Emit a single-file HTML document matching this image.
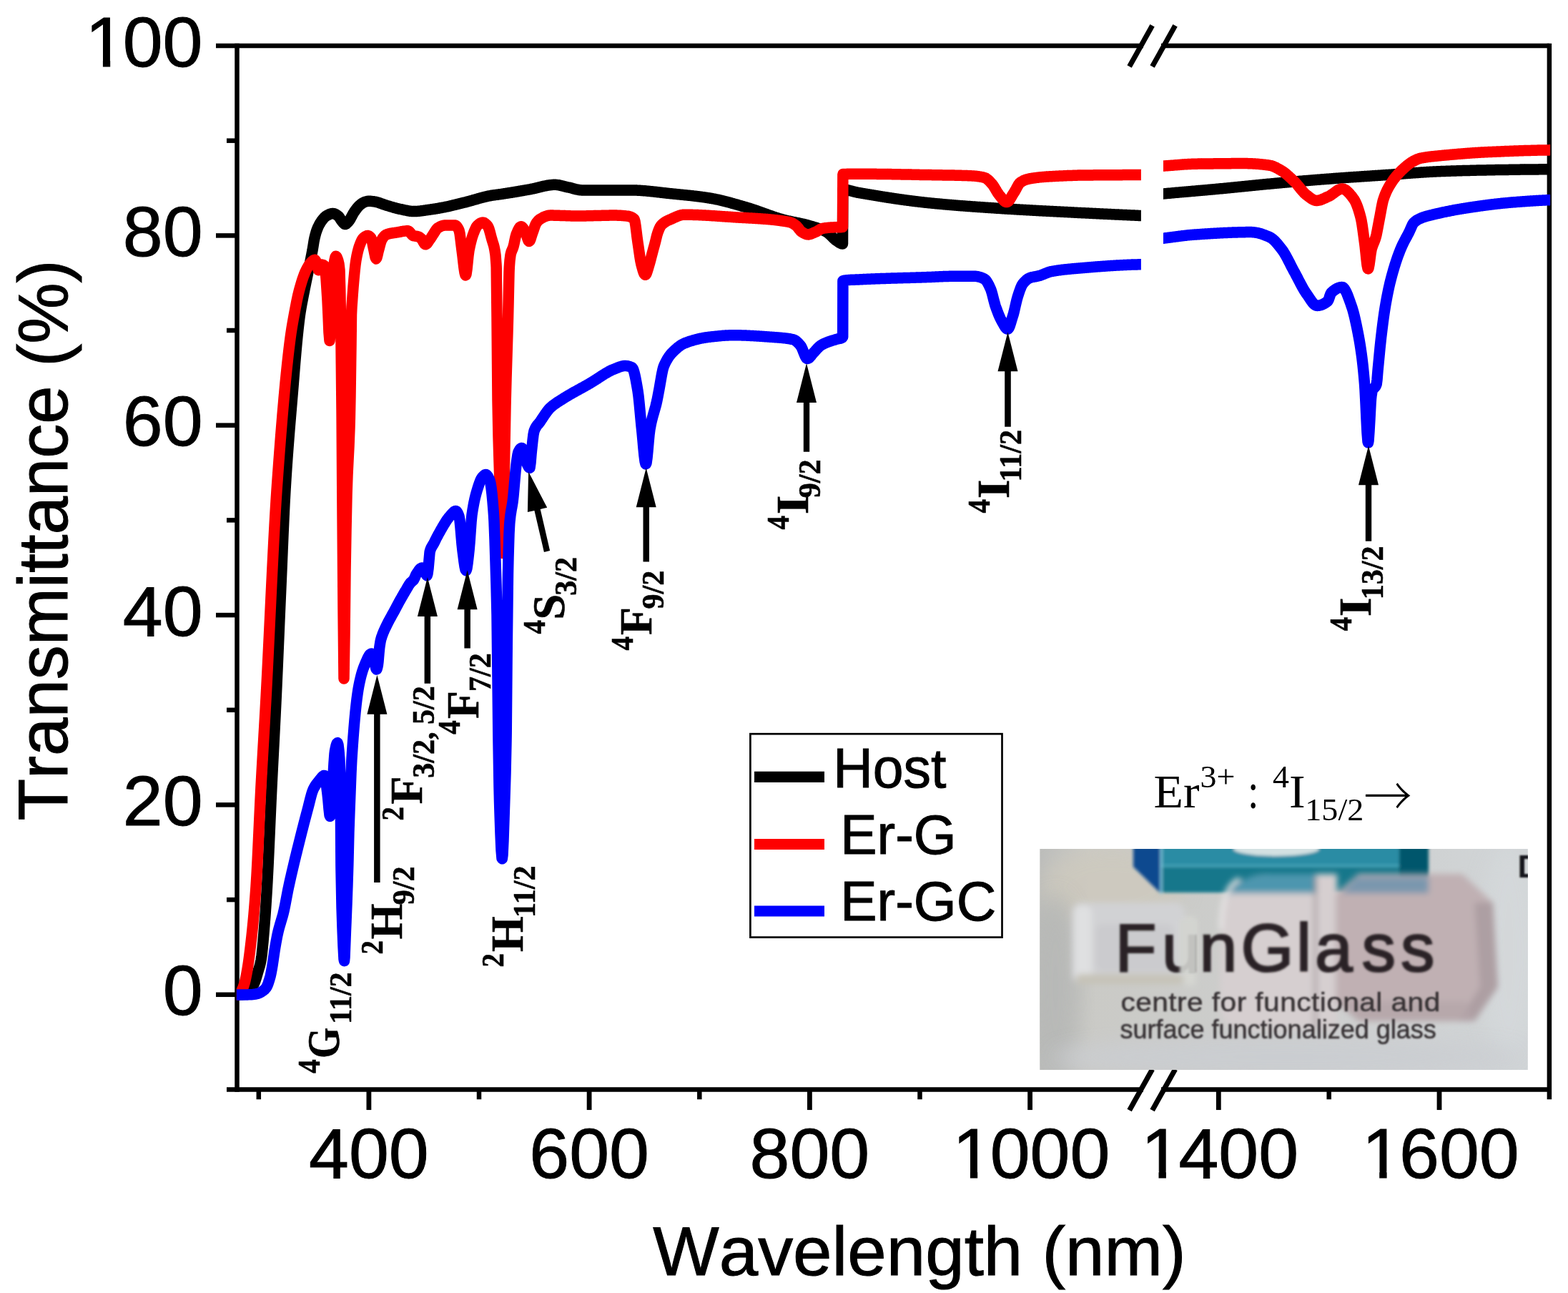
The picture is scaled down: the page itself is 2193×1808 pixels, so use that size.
<!DOCTYPE html>
<html lang="en"><head><meta charset="utf-8"><title>Transmittance spectra</title>
<style>html,body{margin:0;padding:0;background:#fff}body{width:2193px;height:1808px;overflow:hidden}svg{display:block}</style>
</head><body>
<svg xmlns="http://www.w3.org/2000/svg" width="2193" height="1808" viewBox="0 0 2193 1808">
<rect width="2193" height="1808" fill="#fff"/>
<defs>
<clipPath id="c1"><rect x="330.8" y="60" width="1265.1" height="1465"/></clipPath>
<clipPath id="c2"><rect x="1627" y="60" width="541.2" height="1465"/></clipPath>
<filter id="b2" x="-20%" y="-20%" width="140%" height="140%"><feGaussianBlur stdDeviation="2"/></filter>
<filter id="b4" x="-20%" y="-20%" width="140%" height="140%"><feGaussianBlur stdDeviation="4"/></filter>
<filter id="b8" x="-30%" y="-30%" width="160%" height="160%"><feGaussianBlur stdDeviation="8"/></filter>
<filter id="b14" x="-30%" y="-30%" width="160%" height="160%"><feGaussianBlur stdDeviation="14"/></filter>
<filter id="bt" x="-5%" y="-20%" width="110%" height="140%"><feGaussianBlur stdDeviation="1.6"/></filter>
<filter id="bt2" x="-5%" y="-20%" width="110%" height="140%"><feGaussianBlur stdDeviation="1.3"/></filter>
<clipPath id="pc"><rect x="1454.2" y="1187" width="682.7" height="309"/></clipPath>
<linearGradient id="pbg" x1="0" y1="0" x2="1" y2="0"><stop offset="0" stop-color="#bcbdbb"/><stop offset="0.1" stop-color="#cacac6"/><stop offset="0.5" stop-color="#cdcecd"/><stop offset="1" stop-color="#d1d5d7"/></linearGradient>
</defs>
<g stroke="#000" stroke-width="6.50" fill="none" stroke-linecap="butt">
<path d="M331.5 60.75 V1526.75"/>
<path d="M2166.9 60.75 V1537.25"/>
<path d="M302.0 64.0 H1599.0"/>
<path d="M1624.0 64.0 H2166.9"/>
<path d="M317.0 1523.5 H1599.0"/>
<path d="M1624.0 1523.5 H2166.9"/>
<path d="M302.0 1390.8 H331.5"/>
<path d="M302.0 1125.4 H331.5"/>
<path d="M302.0 860.1 H331.5"/>
<path d="M302.0 594.7 H331.5"/>
<path d="M302.0 329.4 H331.5"/>
<path d="M317.0 1258.1 H331.5"/>
<path d="M317.0 992.8 H331.5"/>
<path d="M317.0 727.4 H331.5"/>
<path d="M317.0 462.0 H331.5"/>
<path d="M317.0 196.7 H331.5"/>
<path d="M515.9 1523.5 V1552.05" stroke-width="6.8"/>
<path d="M824.1 1523.5 V1552.05" stroke-width="6.8"/>
<path d="M1132.4 1523.5 V1552.05" stroke-width="6.8"/>
<path d="M1440.6 1523.5 V1552.05" stroke-width="6.8"/>
<path d="M1704.3 1523.5 V1552.05" stroke-width="6.8"/>
<path d="M2013.0 1523.5 V1552.05" stroke-width="6.8"/>
<path d="M361.8 1523.5 V1537.25"/>
<path d="M670.0 1523.5 V1537.25"/>
<path d="M978.3 1523.5 V1537.25"/>
<path d="M1286.5 1523.5 V1537.25"/>
<path d="M1858.7 1523.5 V1537.25"/>
</g>
<g stroke="#000" stroke-width="7.2" fill="none" stroke-linecap="butt">
<path d="M1579.6 93.0 L1611.6 35.8"/>
<path d="M1611.6 93.0 L1643.6 35.8"/>
<path d="M1579.6 1552.5 L1611.6 1495.3"/>
<path d="M1611.6 1552.5 L1643.6 1495.3"/>
</g>
<g clip-path="url(#c1)"><path d="M325.0 1391.0L326.0 1391.0L327.0 1391.0L328.0 1391.0L329.0 1391.0L330.0 1391.0L331.0 1391.0L332.0 1391.0L333.0 1391.0L334.0 1391.0L335.0 1390.9L336.0 1390.9L337.0 1390.8L338.0 1390.7L339.0 1390.7L340.0 1390.6L341.0 1390.5L342.0 1390.3L343.0 1390.0L344.0 1389.6L345.0 1389.0L346.0 1388.4L347.0 1387.6L348.0 1386.8L349.0 1386.0L350.0 1385.0L351.0 1383.7L352.0 1382.1L353.0 1380.3L354.0 1378.3L355.0 1376.2L356.0 1374.0L357.0 1371.4L358.0 1368.4L359.0 1365.0L360.0 1361.5L361.0 1358.0L362.0 1354.7L363.0 1351.5L364.0 1347.7L365.0 1343.0L366.0 1336.2L367.0 1327.0L368.0 1316.2L369.0 1304.3L370.0 1292.0L371.0 1279.0L372.0 1264.4L373.0 1248.5L373.5 1240.0L374.0 1231.0L375.0 1211.3L376.0 1189.7L377.0 1167.1L378.0 1144.1L379.0 1121.5L380.0 1100.0L381.0 1079.7L382.0 1060.0L383.0 1040.5L384.0 1020.9L385.0 1000.9L386.0 980.0L387.0 958.1L388.0 935.3L389.0 911.9L390.0 888.3L391.0 864.7L392.0 841.4L392.5 830.0L393.0 818.5L394.0 794.8L395.0 770.7L396.0 747.0L397.0 724.3L398.0 703.4L399.0 685.0L400.0 668.6L401.0 653.3L402.0 639.0L403.0 625.4L404.0 612.4L405.0 599.9L406.0 587.8L407.0 575.9L408.0 564.1L409.0 552.1L410.0 540.0L411.0 527.6L412.0 515.2L413.0 503.1L414.0 491.3L415.0 480.2L416.0 470.0L417.0 460.5L418.0 451.6L419.0 443.6L419.5 440.0L420.0 436.7L421.0 430.5L422.0 424.9L423.0 419.7L424.0 414.6L425.0 409.6L425.5 407.0L426.0 404.4L427.0 399.4L428.0 394.5L429.0 389.6L430.0 384.8L431.0 379.9L432.0 375.0L433.0 370.1L434.0 365.3L435.0 360.4L436.0 355.3L437.0 350.0L438.0 343.9L439.0 337.6L439.5 335.0L440.0 332.7L441.0 328.6L442.0 325.0L443.0 322.0L444.0 319.5L445.0 317.1L446.0 315.1L447.0 313.2L448.0 311.5L449.0 310.0L450.0 308.6L451.0 307.3L452.0 306.0L453.0 304.9L454.0 303.8L455.0 302.9L456.0 302.1L457.0 301.5L458.0 301.0L459.0 300.5L460.0 300.0L461.0 299.5L462.0 299.2L463.0 298.8L464.0 298.6L465.0 298.5L465.5 298.5L466.0 298.5L467.0 298.7L468.0 299.0L469.0 299.4L470.0 300.0L471.0 300.6L472.0 301.3L473.0 302.0L474.0 303.0L475.0 304.4L476.0 306.1L477.0 307.7L478.0 309.0L479.0 310.2L480.0 311.5L481.0 312.6L482.0 313.3L482.7 313.5L483.0 313.5L484.0 313.1L485.0 312.3L486.0 311.3L487.0 310.2L488.0 309.0L489.0 307.7L490.0 306.1L491.0 304.2L492.0 302.3L493.0 300.4L494.0 298.6L495.0 297.0L496.0 295.6L497.0 294.1L498.0 292.7L499.0 291.4L500.0 290.1L501.0 289.0L502.0 287.9L503.0 287.0L504.0 286.2L505.0 285.4L506.0 284.6L507.0 284.0L508.0 283.4L509.0 282.9L510.0 282.5L511.0 282.2L512.0 281.9L513.0 281.6L514.0 281.4L515.0 281.3L516.0 281.2L517.0 281.2L518.0 281.3L519.0 281.4L520.0 281.5L521.0 281.6L522.0 281.7L523.0 281.9L524.0 282.0L525.0 282.2L526.0 282.4L527.0 282.6L528.0 282.9L529.0 283.2L530.0 283.5L531.0 283.8L532.0 284.2L533.0 284.6L534.0 284.9L535.0 285.3L536.0 285.7L537.0 286.0L538.0 286.4L539.0 286.7L540.0 287.0L541.0 287.3L542.0 287.6L543.0 287.9L544.0 288.2L545.0 288.5L546.0 288.8L547.0 289.1L548.0 289.4L549.0 289.7L550.0 290.0L551.0 290.3L552.0 290.5L553.0 290.8L554.0 291.1L555.0 291.3L556.0 291.6L557.0 291.8L558.0 292.1L559.0 292.3L560.0 292.5L561.0 292.7L562.0 292.9L563.0 293.1L564.0 293.4L565.0 293.6L566.0 293.8L567.0 294.0L568.0 294.2L569.0 294.4L570.0 294.6L571.0 294.8L572.0 295.0L573.0 295.1L574.0 295.3L575.0 295.4L576.0 295.5L577.0 295.5L578.0 295.6L579.0 295.6L580.0 295.6L581.0 295.6L582.0 295.5L583.0 295.5L584.0 295.4L585.0 295.3L586.0 295.2L587.0 295.1L588.0 295.0L589.0 294.9L590.0 294.7L591.0 294.6L592.0 294.5L593.0 294.3L594.0 294.2L595.0 294.0L596.0 293.9L597.0 293.7L598.0 293.6L599.0 293.4L600.0 293.3L601.0 293.2L602.0 293.0L603.0 292.9L604.0 292.7L605.0 292.6L606.0 292.4L607.0 292.3L608.0 292.1L609.0 292.0L610.0 291.8L611.0 291.6L612.0 291.5L613.0 291.3L614.0 291.1L615.0 290.9L616.0 290.7L617.0 290.6L618.0 290.4L619.0 290.2L620.0 290.0L621.0 289.8L622.0 289.6L623.0 289.4L624.0 289.2L625.0 289.0L626.0 288.8L627.0 288.6L628.0 288.3L629.0 288.1L630.0 287.9L631.0 287.7L632.0 287.4L633.0 287.2L634.0 286.9L635.0 286.7L636.0 286.5L637.0 286.2L638.0 286.0L639.0 285.7L640.0 285.5L641.0 285.2L642.0 285.0L643.0 284.7L644.0 284.5L645.0 284.2L646.0 284.0L647.0 283.7L648.0 283.5L649.0 283.2L650.0 283.0L651.0 282.8L652.0 282.5L653.0 282.2L654.0 282.0L655.0 281.7L656.0 281.4L657.0 281.1L658.0 280.9L659.0 280.6L660.0 280.3L661.0 280.0L662.0 279.7L663.0 279.4L664.0 279.1L665.0 278.8L666.0 278.6L667.0 278.3L668.0 278.0L669.0 277.7L670.0 277.4L671.0 277.1L672.0 276.9L673.0 276.6L674.0 276.3L675.0 276.0L676.0 275.8L677.0 275.5L678.0 275.3L679.0 275.0L680.0 274.8L681.0 274.6L682.0 274.4L683.0 274.1L684.0 273.9L685.0 273.8L686.0 273.6L686.4 273.5L687.0 273.4L688.0 273.2L689.0 273.1L690.0 272.9L691.0 272.8L692.0 272.7L693.0 272.5L694.0 272.4L695.0 272.3L696.0 272.1L697.0 272.0L698.0 271.9L699.0 271.7L700.0 271.6L701.0 271.5L702.0 271.3L703.0 271.1L704.0 271.0L705.0 270.8L706.0 270.7L707.0 270.5L708.0 270.4L709.0 270.2L710.0 270.1L711.0 269.9L712.0 269.7L713.0 269.6L714.0 269.4L715.0 269.3L716.0 269.1L717.0 268.9L718.0 268.8L719.0 268.6L720.0 268.4L721.0 268.3L722.0 268.1L723.0 267.9L724.0 267.8L725.0 267.6L726.0 267.4L727.0 267.2L728.0 267.1L729.0 266.9L730.0 266.7L731.0 266.6L732.0 266.4L733.0 266.2L734.0 266.0L735.0 265.9L736.0 265.7L737.0 265.5L738.0 265.3L739.0 265.2L740.0 265.0L741.0 264.8L742.0 264.6L743.0 264.4L744.0 264.2L745.0 264.0L746.0 263.8L747.0 263.5L748.0 263.3L749.0 263.1L750.0 262.8L751.0 262.6L752.0 262.3L753.0 262.1L754.0 261.8L755.0 261.6L756.0 261.3L757.0 261.1L758.0 260.9L759.0 260.6L760.0 260.4L761.0 260.2L762.0 260.0L763.0 259.8L764.0 259.6L765.0 259.4L766.0 259.2L767.0 259.1L768.0 258.9L769.0 258.8L770.0 258.7L771.0 258.5L772.0 258.5L773.0 258.4L774.0 258.3L775.0 258.3L776.0 258.3L777.0 258.3L778.0 258.4L779.0 258.5L780.0 258.6L781.0 258.7L782.0 258.9L783.0 259.1L784.0 259.3L785.0 259.6L786.0 259.8L787.0 260.0L788.0 260.3L789.0 260.6L790.0 260.8L791.0 261.1L792.0 261.3L793.0 261.6L794.0 261.8L795.0 262.0L796.0 262.2L797.0 262.4L798.0 262.7L799.0 262.9L800.0 263.2L801.0 263.5L802.0 263.8L803.0 264.0L804.0 264.3L805.0 264.6L806.0 264.8L807.0 265.0L808.0 265.2L809.0 265.4L810.0 265.6L811.0 265.7L812.0 265.8L813.0 265.9L814.0 265.9L815.0 265.9L816.0 265.9L817.0 265.9L818.0 265.9L819.0 265.9L820.0 265.9L821.0 265.9L822.0 265.9L823.0 265.9L824.0 265.9L825.0 265.9L826.0 265.9L827.0 265.9L828.0 265.9L829.0 265.9L830.0 265.9L831.0 265.9L832.0 265.9L833.0 265.9L834.0 265.9L835.0 265.9L836.0 265.9L837.0 265.9L838.0 265.9L839.0 265.9L840.0 265.9L841.0 265.9L842.0 265.9L843.0 265.9L844.0 265.9L845.0 265.9L846.0 265.9L847.0 265.9L848.0 265.9L849.0 265.9L850.0 265.9L851.0 265.9L852.0 265.9L853.0 265.9L854.0 265.9L855.0 265.9L856.0 265.9L857.0 265.9L858.0 265.9L859.0 265.9L860.0 265.9L861.0 265.9L862.0 265.9L863.0 265.9L864.0 265.9L865.0 265.9L866.0 265.9L867.0 265.9L868.0 265.9L869.0 265.9L870.0 265.9L871.0 265.9L872.0 265.9L873.0 265.9L874.0 265.9L875.0 265.9L876.0 265.9L877.0 265.9L878.0 265.9L879.0 265.9L880.0 265.9L881.0 265.9L882.0 265.9L883.0 265.9L884.0 265.9L885.0 265.9L886.0 265.9L887.0 266.0L888.0 266.0L889.0 266.0L890.0 266.1L891.0 266.1L892.0 266.2L893.0 266.2L894.0 266.3L895.0 266.3L896.0 266.4L897.0 266.4L898.0 266.5L899.0 266.6L900.0 266.7L901.0 266.7L902.0 266.8L903.0 266.9L904.0 267.0L905.0 267.1L906.0 267.2L907.0 267.3L908.0 267.4L909.0 267.5L910.0 267.6L911.0 267.7L912.0 267.8L913.0 267.9L914.0 268.0L915.0 268.1L916.0 268.2L917.0 268.3L918.0 268.4L919.0 268.6L920.0 268.7L921.0 268.8L922.0 268.9L923.0 269.0L924.0 269.1L925.0 269.3L926.0 269.4L927.0 269.5L928.0 269.6L929.0 269.7L930.0 269.8L931.0 269.9L932.0 270.1L933.0 270.2L934.0 270.3L935.0 270.4L936.0 270.5L937.0 270.6L938.0 270.7L939.0 270.8L940.0 270.9L941.0 271.0L942.0 271.1L943.0 271.2L944.0 271.3L945.0 271.4L946.0 271.5L947.0 271.6L948.0 271.7L949.0 271.8L950.0 271.9L951.0 272.0L952.0 272.1L953.0 272.2L954.0 272.3L955.0 272.4L956.0 272.5L957.0 272.6L958.0 272.7L959.0 272.8L960.0 272.9L961.0 273.0L962.0 273.1L963.0 273.2L964.0 273.3L965.0 273.4L966.0 273.5L967.0 273.6L968.0 273.7L969.0 273.9L970.0 274.0L971.0 274.1L972.0 274.2L973.0 274.3L974.0 274.4L975.0 274.6L976.0 274.7L977.0 274.8L978.0 274.9L979.0 275.1L980.0 275.2L981.0 275.3L982.0 275.5L983.0 275.6L984.0 275.7L985.0 275.9L986.0 276.0L987.0 276.2L988.0 276.3L989.0 276.5L990.0 276.6L991.0 276.8L991.8 276.9L992.0 276.9L993.0 277.1L994.0 277.3L995.0 277.4L996.0 277.6L997.0 277.8L998.0 278.0L999.0 278.2L1000.0 278.4L1001.0 278.6L1002.0 278.8L1003.0 279.0L1004.0 279.2L1005.0 279.4L1006.0 279.7L1007.0 279.9L1008.0 280.1L1009.0 280.4L1010.0 280.6L1011.0 280.8L1012.0 281.1L1013.0 281.3L1014.0 281.6L1015.0 281.9L1016.0 282.1L1017.0 282.4L1018.0 282.6L1019.0 282.9L1020.0 283.2L1021.0 283.4L1022.0 283.7L1023.0 284.0L1024.0 284.3L1025.0 284.5L1026.0 284.8L1027.0 285.1L1028.0 285.4L1029.0 285.7L1030.0 286.0L1031.0 286.2L1032.0 286.5L1033.0 286.8L1034.0 287.1L1035.0 287.4L1036.0 287.7L1037.0 288.0L1038.0 288.3L1039.0 288.5L1040.0 288.8L1041.0 289.1L1042.0 289.4L1043.0 289.7L1043.7 289.9L1044.0 290.0L1045.0 290.3L1046.0 290.6L1047.0 290.9L1048.0 291.2L1049.0 291.5L1050.0 291.8L1051.0 292.1L1052.0 292.5L1053.0 292.8L1054.0 293.1L1055.0 293.5L1056.0 293.8L1057.0 294.2L1058.0 294.5L1059.0 294.9L1060.0 295.2L1061.0 295.6L1062.0 295.9L1063.0 296.3L1064.0 296.6L1065.0 297.0L1066.0 297.4L1067.0 297.7L1068.0 298.1L1069.0 298.5L1070.0 298.8L1071.0 299.2L1072.0 299.5L1073.0 299.9L1074.0 300.3L1075.0 300.6L1076.0 301.0L1077.0 301.3L1078.0 301.7L1079.0 302.0L1080.0 302.4L1081.0 302.7L1082.0 303.1L1083.0 303.4L1084.0 303.7L1085.0 304.1L1086.0 304.4L1087.0 304.7L1088.0 305.0L1089.0 305.3L1090.0 305.6L1091.0 305.9L1092.0 306.2L1093.0 306.5L1094.0 306.8L1095.0 307.1L1095.5 307.2L1096.0 307.3L1097.0 307.6L1098.0 307.8L1099.0 308.1L1100.0 308.3L1101.0 308.6L1102.0 308.8L1103.0 309.0L1104.0 309.2L1105.0 309.4L1106.0 309.7L1107.0 309.9L1108.0 310.1L1109.0 310.3L1110.0 310.5L1111.0 310.7L1112.0 310.9L1113.0 311.1L1114.0 311.3L1115.0 311.5L1116.0 311.7L1117.0 311.9L1118.0 312.1L1119.0 312.3L1120.0 312.5L1121.0 312.8L1122.0 313.0L1123.0 313.2L1124.0 313.5L1125.0 313.7L1126.0 313.9L1127.0 314.2L1128.0 314.5L1129.0 314.7L1130.0 315.0L1131.0 315.3L1132.0 315.6L1133.0 315.8L1134.0 316.1L1135.0 316.4L1136.0 316.7L1137.0 317.0L1138.0 317.3L1139.0 317.6L1140.0 317.9L1141.0 318.2L1142.0 318.5L1143.0 318.9L1144.0 319.2L1145.0 319.6L1146.0 319.9L1147.0 320.3L1148.0 320.7L1149.0 321.1L1150.0 321.5L1151.0 322.0L1152.0 322.4L1153.0 322.9L1154.0 323.4L1155.0 323.9L1156.0 324.4L1157.0 325.0L1158.0 325.7L1159.0 326.5L1160.0 327.4L1161.0 328.3L1162.0 329.3L1163.0 330.3L1164.0 331.3L1165.0 332.3L1166.0 333.3L1167.0 334.2L1168.0 335.1L1169.0 335.9L1169.9 336.5L1170.0 336.6L1171.0 337.2L1172.0 337.9L1173.0 338.6L1174.0 339.3L1175.0 339.9L1176.0 340.4L1177.0 340.8L1178.0 341.0L1178.5 341.0L1178.8 265.0L1179.0 265.0L1180.0 265.0L1181.0 265.1L1182.0 265.2L1183.0 265.3L1184.0 265.5L1185.0 265.7L1186.0 265.9L1187.0 266.1L1188.0 266.4L1189.0 266.6L1190.0 266.9L1191.0 267.2L1192.0 267.4L1193.0 267.7L1194.0 268.0L1195.0 268.2L1196.0 268.5L1197.0 268.7L1198.0 268.9L1199.0 269.1L1200.0 269.3L1201.0 269.5L1202.0 269.6L1203.0 269.8L1204.0 270.0L1205.0 270.1L1206.0 270.3L1207.0 270.5L1208.0 270.7L1209.0 270.8L1210.0 271.0L1211.0 271.2L1212.0 271.4L1213.0 271.5L1214.0 271.7L1215.0 271.9L1216.0 272.0L1217.0 272.2L1218.0 272.4L1219.0 272.5L1220.0 272.7L1221.0 272.9L1222.0 273.0L1223.0 273.2L1224.0 273.4L1225.0 273.5L1226.0 273.7L1227.0 273.9L1228.0 274.0L1229.0 274.2L1230.0 274.4L1231.0 274.5L1232.0 274.7L1233.0 274.8L1234.0 275.0L1235.0 275.2L1236.0 275.3L1237.0 275.5L1238.0 275.6L1239.0 275.8L1240.0 275.9L1241.0 276.1L1242.0 276.3L1243.0 276.4L1244.0 276.6L1245.0 276.7L1246.0 276.9L1247.0 277.0L1248.0 277.2L1249.0 277.3L1250.0 277.5L1251.0 277.6L1252.0 277.8L1253.0 277.9L1254.0 278.1L1255.0 278.2L1256.0 278.4L1257.0 278.5L1258.0 278.6L1259.0 278.8L1260.0 278.9L1261.0 279.1L1262.0 279.2L1263.0 279.3L1264.0 279.5L1265.0 279.6L1266.0 279.8L1267.0 279.9L1268.0 280.0L1269.0 280.2L1270.0 280.3L1271.0 280.4L1272.0 280.5L1273.0 280.7L1274.0 280.8L1275.0 280.9L1276.0 281.1L1277.0 281.2L1278.0 281.3L1279.0 281.4L1280.0 281.6L1281.0 281.7L1282.0 281.8L1283.0 281.9L1284.0 282.0L1285.0 282.2L1286.0 282.3L1287.0 282.4L1288.0 282.5L1289.0 282.6L1290.0 282.7L1291.0 282.8L1292.0 283.0L1293.0 283.1L1294.0 283.2L1295.0 283.3L1296.0 283.4L1297.0 283.5L1298.0 283.6L1299.0 283.7L1300.0 283.8L1301.0 283.9L1302.0 284.0L1303.0 284.1L1304.0 284.2L1305.0 284.3L1306.0 284.4L1307.0 284.5L1308.0 284.6L1309.0 284.7L1310.0 284.8L1311.0 284.9L1312.0 285.0L1313.0 285.1L1314.0 285.1L1315.0 285.2L1316.0 285.3L1317.0 285.4L1318.0 285.5L1319.0 285.6L1320.0 285.7L1321.0 285.8L1322.0 285.9L1323.0 286.0L1324.0 286.0L1325.0 286.1L1326.0 286.2L1327.0 286.3L1328.0 286.4L1329.0 286.5L1330.0 286.6L1331.0 286.6L1332.0 286.7L1333.0 286.8L1334.0 286.9L1335.0 287.0L1336.0 287.0L1337.0 287.1L1338.0 287.2L1339.0 287.3L1340.0 287.4L1341.0 287.4L1342.0 287.5L1343.0 287.6L1344.0 287.7L1345.0 287.8L1346.0 287.8L1347.0 287.9L1348.0 288.0L1349.0 288.1L1350.0 288.1L1351.0 288.2L1352.0 288.3L1353.0 288.4L1354.0 288.4L1355.0 288.5L1356.0 288.6L1357.0 288.6L1358.0 288.7L1359.0 288.8L1360.0 288.9L1361.0 288.9L1362.0 289.0L1363.0 289.1L1364.0 289.1L1365.0 289.2L1366.0 289.3L1367.0 289.4L1368.0 289.4L1369.0 289.5L1370.0 289.6L1371.0 289.6L1372.0 289.7L1373.0 289.8L1374.0 289.8L1375.0 289.9L1376.0 290.0L1377.0 290.0L1378.0 290.1L1379.0 290.2L1380.0 290.2L1381.0 290.3L1382.0 290.4L1383.0 290.4L1384.0 290.5L1385.0 290.6L1386.0 290.6L1387.0 290.7L1388.0 290.8L1389.0 290.8L1390.0 290.9L1391.0 291.0L1392.0 291.0L1393.0 291.1L1394.0 291.2L1395.0 291.2L1396.0 291.3L1397.0 291.3L1398.0 291.4L1399.0 291.5L1400.0 291.5L1401.0 291.6L1402.0 291.7L1403.0 291.7L1404.0 291.8L1405.0 291.9L1406.0 291.9L1407.0 292.0L1408.0 292.0L1409.0 292.1L1410.0 292.2L1411.0 292.2L1412.0 292.3L1413.0 292.3L1414.0 292.4L1415.0 292.5L1416.0 292.5L1417.0 292.6L1418.0 292.6L1419.0 292.7L1420.0 292.8L1421.0 292.8L1422.0 292.9L1423.0 292.9L1424.0 293.0L1425.0 293.1L1426.0 293.1L1427.0 293.2L1428.0 293.2L1429.0 293.3L1430.0 293.3L1431.0 293.4L1432.0 293.5L1433.0 293.5L1434.0 293.6L1435.0 293.6L1436.0 293.7L1437.0 293.7L1438.0 293.8L1439.0 293.8L1440.0 293.9L1441.0 294.0L1442.0 294.0L1443.0 294.1L1444.0 294.1L1445.0 294.2L1446.0 294.2L1447.0 294.3L1448.0 294.3L1449.0 294.4L1450.0 294.4L1451.0 294.5L1452.0 294.5L1453.0 294.6L1454.0 294.7L1455.0 294.7L1456.0 294.8L1457.0 294.8L1458.0 294.9L1459.0 294.9L1460.0 295.0L1461.0 295.0L1462.0 295.1L1463.0 295.1L1464.0 295.2L1465.0 295.2L1466.0 295.3L1467.0 295.3L1468.0 295.4L1469.0 295.4L1470.0 295.5L1471.0 295.5L1472.0 295.6L1473.0 295.6L1474.0 295.7L1475.0 295.7L1476.0 295.8L1477.0 295.8L1478.0 295.9L1479.0 295.9L1480.0 296.0L1481.0 296.0L1482.0 296.1L1483.0 296.1L1484.0 296.2L1485.0 296.2L1486.0 296.3L1487.0 296.3L1488.0 296.4L1489.0 296.4L1490.0 296.5L1491.0 296.5L1492.0 296.6L1493.0 296.6L1494.0 296.7L1495.0 296.7L1496.0 296.8L1497.0 296.8L1498.0 296.9L1499.0 296.9L1500.0 297.0L1501.0 297.1L1502.0 297.1L1503.0 297.2L1504.0 297.2L1505.0 297.3L1506.0 297.3L1507.0 297.4L1508.0 297.4L1509.0 297.5L1510.0 297.5L1511.0 297.6L1512.0 297.6L1513.0 297.7L1514.0 297.7L1515.0 297.8L1516.0 297.8L1517.0 297.8L1518.0 297.9L1519.0 297.9L1520.0 298.0L1521.0 298.0L1522.0 298.1L1523.0 298.1L1524.0 298.2L1525.0 298.2L1526.0 298.3L1527.0 298.3L1528.0 298.4L1529.0 298.4L1530.0 298.5L1531.0 298.5L1532.0 298.6L1533.0 298.6L1534.0 298.7L1535.0 298.7L1536.0 298.8L1537.0 298.8L1538.0 298.9L1539.0 298.9L1540.0 299.0L1541.0 299.0L1542.0 299.1L1543.0 299.1L1544.0 299.2L1545.0 299.2L1546.0 299.3L1547.0 299.3L1548.0 299.3L1549.0 299.4L1550.0 299.4L1551.0 299.5L1552.0 299.5L1553.0 299.6L1554.0 299.6L1555.0 299.7L1556.0 299.7L1557.0 299.8L1558.0 299.8L1559.0 299.9L1560.0 299.9L1561.0 300.0L1562.0 300.0L1563.0 300.0L1564.0 300.1L1565.0 300.1L1566.0 300.2L1567.0 300.2L1568.0 300.3L1569.0 300.3L1570.0 300.4L1571.0 300.4L1572.0 300.5L1573.0 300.5L1574.0 300.5L1575.0 300.6L1576.0 300.6L1577.0 300.7L1578.0 300.7L1579.0 300.8L1580.0 300.8L1581.0 300.9L1582.0 300.9L1583.0 301.0L1584.0 301.0L1585.0 301.0L1586.0 301.1L1587.0 301.1L1588.0 301.2L1589.0 301.2L1590.0 301.3L1591.0 301.3L1592.0 301.4L1593.0 301.4L1594.0 301.4L1595.0 301.5L1596.0 301.5L1597.0 301.6L1598.0 301.6L1599.0 301.7L1600.0 301.7" fill="none" stroke="#000" stroke-width="15.5" stroke-linejoin="round" stroke-linecap="butt"/></g>
<g clip-path="url(#c2)"><path d="M1620.0 271.7L1621.0 271.6L1622.0 271.5L1623.0 271.4L1624.0 271.3L1625.0 271.2L1626.0 271.1L1627.0 271.0L1628.0 270.9L1629.0 270.8L1630.0 270.7L1631.0 270.6L1632.0 270.5L1633.0 270.4L1634.0 270.3L1635.0 270.2L1636.0 270.2L1637.0 270.1L1638.0 270.0L1639.0 269.9L1640.0 269.8L1641.0 269.7L1642.0 269.6L1643.0 269.5L1644.0 269.4L1645.0 269.3L1646.0 269.3L1647.0 269.2L1648.0 269.1L1649.0 269.0L1650.0 268.9L1651.0 268.8L1652.0 268.7L1653.0 268.6L1654.0 268.5L1655.0 268.5L1656.0 268.4L1657.0 268.3L1658.0 268.2L1659.0 268.1L1660.0 268.0L1661.0 267.9L1662.0 267.9L1663.0 267.8L1664.0 267.7L1665.0 267.6L1666.0 267.5L1667.0 267.4L1668.0 267.3L1669.0 267.2L1670.0 267.2L1671.0 267.1L1672.0 267.0L1673.0 266.9L1674.0 266.8L1675.0 266.7L1676.0 266.6L1677.0 266.6L1678.0 266.5L1679.0 266.4L1680.0 266.3L1681.0 266.2L1682.0 266.1L1683.0 266.0L1684.0 265.9L1685.0 265.9L1686.0 265.8L1687.0 265.7L1688.0 265.6L1689.0 265.5L1690.0 265.4L1691.0 265.3L1692.0 265.2L1693.0 265.1L1694.0 265.0L1695.0 265.0L1696.0 264.9L1697.0 264.8L1698.0 264.7L1699.0 264.6L1700.0 264.5L1701.0 264.4L1702.0 264.3L1703.0 264.2L1704.0 264.1L1705.0 264.0L1706.0 263.9L1707.0 263.8L1708.0 263.7L1709.0 263.7L1710.0 263.6L1711.0 263.5L1712.0 263.4L1713.0 263.3L1714.0 263.2L1715.0 263.1L1716.0 263.0L1717.0 262.9L1718.0 262.8L1719.0 262.7L1720.0 262.6L1721.0 262.5L1722.0 262.4L1723.0 262.3L1724.0 262.2L1725.0 262.1L1726.0 262.0L1727.0 261.9L1728.0 261.8L1729.0 261.7L1730.0 261.6L1731.0 261.5L1732.0 261.4L1733.0 261.3L1734.0 261.2L1735.0 261.1L1736.0 261.0L1737.0 260.9L1738.0 260.8L1739.0 260.7L1740.0 260.6L1741.0 260.5L1742.0 260.4L1743.0 260.3L1744.0 260.2L1745.0 260.1L1746.0 260.0L1747.0 259.9L1748.0 259.8L1749.0 259.7L1750.0 259.6L1751.0 259.5L1752.0 259.4L1753.0 259.3L1754.0 259.2L1755.0 259.1L1756.0 259.0L1757.0 258.9L1758.0 258.8L1759.0 258.7L1760.0 258.6L1761.0 258.5L1762.0 258.4L1763.0 258.3L1764.0 258.2L1765.0 258.1L1766.0 258.0L1767.0 257.9L1768.0 257.8L1769.0 257.7L1770.0 257.6L1771.0 257.5L1772.0 257.4L1773.0 257.3L1774.0 257.3L1775.0 257.2L1776.0 257.1L1777.0 257.0L1778.0 256.9L1779.0 256.8L1780.0 256.7L1781.0 256.6L1782.0 256.5L1783.0 256.4L1784.0 256.3L1785.0 256.2L1786.0 256.1L1787.0 256.0L1788.0 255.9L1789.0 255.9L1790.0 255.8L1791.0 255.7L1792.0 255.6L1793.0 255.5L1794.0 255.4L1795.0 255.3L1796.0 255.2L1797.0 255.1L1798.0 255.1L1799.0 255.0L1800.0 254.9L1801.0 254.8L1802.0 254.7L1803.0 254.6L1804.0 254.5L1805.0 254.5L1806.0 254.4L1807.0 254.3L1808.0 254.2L1809.0 254.1L1810.0 254.0L1811.0 253.9L1812.0 253.9L1813.0 253.8L1814.0 253.7L1815.0 253.6L1816.0 253.5L1817.0 253.4L1818.0 253.3L1819.0 253.3L1820.0 253.2L1821.0 253.1L1822.0 253.0L1823.0 252.9L1824.0 252.8L1825.0 252.8L1826.0 252.7L1827.0 252.6L1828.0 252.5L1829.0 252.4L1830.0 252.4L1831.0 252.3L1832.0 252.2L1833.0 252.1L1834.0 252.0L1835.0 251.9L1836.0 251.9L1837.0 251.8L1838.0 251.7L1839.0 251.6L1840.0 251.5L1841.0 251.5L1842.0 251.4L1843.0 251.3L1844.0 251.2L1845.0 251.2L1846.0 251.1L1847.0 251.0L1848.0 250.9L1849.0 250.8L1850.0 250.8L1851.0 250.7L1852.0 250.6L1853.0 250.5L1854.0 250.5L1855.0 250.4L1856.0 250.3L1857.0 250.2L1858.0 250.2L1859.0 250.1L1860.0 250.0L1861.0 249.9L1862.0 249.9L1863.0 249.8L1864.0 249.7L1865.0 249.6L1866.0 249.6L1867.0 249.5L1868.0 249.4L1869.0 249.3L1870.0 249.3L1871.0 249.2L1872.0 249.1L1873.0 249.0L1874.0 249.0L1875.0 248.9L1876.0 248.8L1877.0 248.8L1878.0 248.7L1879.0 248.6L1880.0 248.5L1881.0 248.5L1882.0 248.4L1883.0 248.3L1884.0 248.3L1885.0 248.2L1886.0 248.1L1887.0 248.1L1888.0 248.0L1889.0 247.9L1890.0 247.8L1891.0 247.8L1892.0 247.7L1893.0 247.6L1894.0 247.6L1895.0 247.5L1896.0 247.4L1897.0 247.4L1898.0 247.3L1899.0 247.2L1900.0 247.2L1901.0 247.1L1902.0 247.0L1903.0 247.0L1904.0 246.9L1905.0 246.8L1906.0 246.8L1907.0 246.7L1908.0 246.6L1909.0 246.6L1910.0 246.5L1911.0 246.4L1912.0 246.4L1913.0 246.3L1914.0 246.2L1915.0 246.2L1916.0 246.1L1917.0 246.0L1918.0 246.0L1919.0 245.9L1920.0 245.8L1921.0 245.8L1922.0 245.7L1923.0 245.6L1924.0 245.6L1925.0 245.5L1926.0 245.4L1927.0 245.4L1928.0 245.3L1929.0 245.2L1930.0 245.2L1931.0 245.1L1932.0 245.0L1933.0 245.0L1934.0 244.9L1935.0 244.8L1936.0 244.8L1937.0 244.7L1938.0 244.6L1939.0 244.6L1940.0 244.5L1941.0 244.4L1942.0 244.4L1943.0 244.3L1944.0 244.2L1945.0 244.2L1946.0 244.1L1947.0 244.0L1948.0 244.0L1949.0 243.9L1950.0 243.8L1951.0 243.7L1952.0 243.7L1953.0 243.6L1954.0 243.5L1955.0 243.4L1956.0 243.4L1957.0 243.3L1958.0 243.2L1959.0 243.2L1960.0 243.1L1961.0 243.0L1962.0 242.9L1963.0 242.9L1964.0 242.8L1965.0 242.7L1966.0 242.6L1967.0 242.6L1968.0 242.5L1969.0 242.4L1970.0 242.3L1971.0 242.3L1972.0 242.2L1973.0 242.1L1974.0 242.1L1975.0 242.0L1976.0 241.9L1977.0 241.8L1978.0 241.8L1979.0 241.7L1980.0 241.6L1981.0 241.6L1982.0 241.5L1983.0 241.4L1984.0 241.4L1985.0 241.3L1986.0 241.2L1987.0 241.1L1988.0 241.1L1989.0 241.0L1990.0 241.0L1991.0 240.9L1992.0 240.8L1993.0 240.8L1994.0 240.7L1995.0 240.6L1996.0 240.6L1997.0 240.5L1998.0 240.5L1999.0 240.4L2000.0 240.3L2001.0 240.3L2002.0 240.2L2003.0 240.2L2004.0 240.1L2005.0 240.1L2006.0 240.0L2007.0 240.0L2008.0 239.9L2009.0 239.9L2010.0 239.8L2011.0 239.8L2012.0 239.7L2013.0 239.7L2014.0 239.7L2015.0 239.6L2016.0 239.6L2017.0 239.5L2018.0 239.5L2019.0 239.5L2020.0 239.4L2021.0 239.4L2022.0 239.4L2023.0 239.3L2024.0 239.3L2025.0 239.3L2026.0 239.2L2027.0 239.2L2028.0 239.2L2029.0 239.1L2030.0 239.1L2031.0 239.1L2032.0 239.0L2033.0 239.0L2034.0 239.0L2035.0 238.9L2036.0 238.9L2037.0 238.9L2038.0 238.8L2039.0 238.8L2040.0 238.8L2041.0 238.8L2042.0 238.7L2043.0 238.7L2044.0 238.7L2045.0 238.6L2046.0 238.6L2047.0 238.6L2048.0 238.6L2049.0 238.5L2050.0 238.5L2051.0 238.5L2052.0 238.5L2053.0 238.4L2054.0 238.4L2055.0 238.4L2056.0 238.4L2057.0 238.3L2058.0 238.3L2059.0 238.3L2060.0 238.3L2061.0 238.2L2062.0 238.2L2063.0 238.2L2064.0 238.2L2065.0 238.1L2066.0 238.1L2067.0 238.1L2068.0 238.1L2069.0 238.1L2070.0 238.0L2071.0 238.0L2072.0 238.0L2073.0 238.0L2074.0 238.0L2075.0 237.9L2076.0 237.9L2077.0 237.9L2078.0 237.9L2079.0 237.9L2080.0 237.8L2081.0 237.8L2082.0 237.8L2083.0 237.8L2084.0 237.8L2085.0 237.7L2086.0 237.7L2087.0 237.7L2088.0 237.7L2089.0 237.7L2090.0 237.7L2091.0 237.6L2092.0 237.6L2093.0 237.6L2094.0 237.6L2095.0 237.6L2096.0 237.6L2097.0 237.5L2098.0 237.5L2099.0 237.5L2100.0 237.5L2101.0 237.5L2102.0 237.5L2103.0 237.5L2104.0 237.4L2105.0 237.4L2106.0 237.4L2107.0 237.4L2108.0 237.4L2109.0 237.4L2110.0 237.4L2111.0 237.3L2112.0 237.3L2113.0 237.3L2114.0 237.3L2115.0 237.3L2116.0 237.3L2117.0 237.3L2118.0 237.2L2119.0 237.2L2120.0 237.2L2121.0 237.2L2122.0 237.2L2123.0 237.2L2124.0 237.2L2125.0 237.2L2126.0 237.1L2127.0 237.1L2128.0 237.1L2129.0 237.1L2130.0 237.1L2131.0 237.1L2132.0 237.1L2133.0 237.1L2134.0 237.0L2135.0 237.0L2136.0 237.0L2137.0 237.0L2138.0 237.0L2139.0 237.0L2140.0 237.0L2141.0 237.0L2142.0 237.0L2143.0 236.9L2144.0 236.9L2145.0 236.9L2146.0 236.9L2147.0 236.9L2148.0 236.9L2149.0 236.9L2150.0 236.9L2151.0 236.9L2152.0 236.9L2153.0 236.8L2154.0 236.8L2155.0 236.8L2156.0 236.8L2157.0 236.8L2158.0 236.8L2159.0 236.8L2160.0 236.8L2161.0 236.8L2162.0 236.8L2163.0 236.8L2164.0 236.8L2165.0 236.8L2166.0 236.7L2167.0 236.7L2168.0 236.7L2169.0 236.7L2170.0 236.7L2171.0 236.7L2172.0 236.7L2173.0 236.7L2174.0 236.7L2175.0 236.7" fill="none" stroke="#000" stroke-width="15.5" stroke-linejoin="round" stroke-linecap="butt"/></g>
<g clip-path="url(#c1)"><path d="M325.0 1391.0L326.0 1391.0L327.0 1391.0L328.0 1391.0L329.0 1391.0L330.0 1391.0L331.0 1391.0L332.0 1390.8L333.0 1390.4L334.0 1389.7L335.0 1388.9L336.0 1388.0L337.0 1386.8L338.0 1385.1L339.0 1383.1L340.0 1380.7L341.0 1378.0L342.0 1374.8L343.0 1370.8L344.0 1366.1L345.0 1361.0L346.0 1355.4L347.0 1349.0L348.0 1342.0L349.0 1334.5L350.0 1326.4L351.0 1317.9L352.0 1309.0L353.0 1299.6L354.0 1289.5L355.0 1278.6L356.0 1266.7L357.0 1253.9L358.0 1240.0L359.0 1223.9L360.0 1205.1L361.0 1184.5L362.0 1162.8L363.0 1141.0L364.0 1119.8L365.0 1100.0L366.0 1081.6L367.0 1063.9L368.0 1046.5L369.0 1029.3L370.0 1012.0L371.0 994.4L371.8 980.0L372.0 976.3L373.0 957.4L374.0 937.8L375.0 917.7L376.0 897.1L377.0 876.3L378.0 855.3L379.0 834.4L380.0 813.7L381.0 793.2L382.0 773.3L383.0 753.9L384.0 735.4L385.0 717.7L386.0 701.2L387.0 685.8L387.4 680.0L388.0 671.6L389.0 657.7L390.0 644.1L391.0 630.8L392.0 617.8L393.0 605.1L394.0 592.8L395.0 580.7L396.0 569.1L397.0 557.7L398.0 546.7L399.0 536.1L400.0 525.9L401.0 516.0L402.0 506.6L403.0 497.5L404.0 488.9L405.0 480.7L406.0 473.0L406.4 470.0L407.0 465.7L408.0 459.2L409.0 453.2L410.0 447.6L411.0 442.2L411.4 440.0L412.0 436.8L413.0 431.4L414.0 426.2L415.0 421.1L416.0 416.3L417.0 411.8L418.0 407.8L418.2 407.0L419.0 404.1L420.0 400.5L421.0 397.1L422.0 393.8L423.0 390.7L424.0 387.8L425.0 385.0L426.0 382.5L427.0 380.1L428.0 378.0L429.0 376.0L430.0 374.1L431.0 372.4L432.0 370.8L433.0 369.3L434.0 368.1L435.0 367.0L436.0 366.0L437.0 365.1L438.0 364.2L439.0 363.6L440.0 363.3L440.3 363.3L441.0 363.8L442.0 365.6L443.0 368.0L444.0 372.3L445.0 377.0L445.5 377.8L446.0 377.3L447.0 374.5L448.0 372.0L449.0 370.7L450.0 370.0L451.0 370.1L452.0 370.5L453.0 371.1L454.0 372.0L455.0 377.3L456.0 389.1L457.0 404.3L458.0 420.0L459.0 441.2L460.0 465.1L461.0 476.5L462.0 465.8L463.0 442.5L464.0 420.0L465.0 400.7L466.0 382.0L467.0 370.0L468.0 363.8L469.0 359.5L469.8 358.3L470.0 358.3L471.0 359.5L472.0 361.9L473.0 365.0L474.0 369.3L475.0 378.0L475.8 407.0L476.0 416.5L477.0 480.0L478.0 572.4L478.1 584.0L478.8 690.0L479.0 718.5L480.0 850.0L481.0 949.0L482.0 889.9L483.0 800.0L484.0 740.7L485.0 693.6L485.1 690.0L486.0 664.0L487.0 643.3L488.0 623.8L489.0 597.9L489.4 584.0L490.0 553.7L491.0 483.0L491.5 440.0L492.0 429.0L492.6 421.0L493.0 415.1L494.0 401.6L495.0 390.0L496.0 379.6L497.0 370.4L497.9 364.0L498.0 363.4L499.0 358.0L500.0 353.4L501.0 349.4L502.0 345.9L503.0 343.0L504.0 340.4L505.0 338.0L506.0 335.9L507.0 334.2L508.0 333.0L509.0 332.1L510.0 331.4L511.0 330.7L512.0 330.1L513.0 329.7L514.0 329.5L514.4 329.5L515.0 329.6L516.0 330.0L517.0 330.8L518.0 331.8L519.0 333.0L520.0 335.6L521.0 340.1L522.0 345.3L523.0 350.0L524.0 354.9L525.0 359.7L526.0 361.9L527.0 360.2L528.0 356.3L529.0 351.9L529.5 350.0L530.0 348.2L531.0 344.4L532.0 340.6L533.0 337.3L534.0 335.0L535.0 333.4L536.0 331.9L537.0 330.7L538.0 329.6L539.0 328.8L540.0 328.2L540.4 328.0L541.0 327.8L542.0 327.4L543.0 327.1L544.0 326.9L545.0 326.6L546.0 326.4L547.0 326.2L548.0 326.1L549.0 325.9L550.0 325.7L551.0 325.6L552.0 325.5L553.0 325.3L554.0 325.2L555.0 325.0L556.0 324.8L557.0 324.6L558.0 324.5L559.0 324.3L560.0 324.1L561.0 323.9L562.0 323.7L563.0 323.5L564.0 323.4L565.0 323.2L566.0 323.1L567.0 323.0L568.0 322.9L569.0 322.8L570.0 322.8L570.6 322.8L571.0 322.9L572.0 323.4L573.0 324.4L574.0 325.6L575.0 326.9L576.0 328.1L577.0 329.1L577.8 329.5L578.0 329.6L579.0 329.8L580.0 330.0L581.0 330.2L582.0 330.3L583.0 330.4L584.0 330.6L585.0 330.9L586.0 331.3L587.0 331.9L588.0 332.7L589.0 333.5L589.3 333.8L590.0 334.6L591.0 336.2L592.0 338.1L593.0 339.8L594.0 341.2L595.0 341.8L595.1 341.8L596.0 341.5L597.0 340.7L598.0 339.4L599.0 338.0L600.0 336.5L600.9 335.2L601.0 335.1L602.0 333.7L603.0 332.2L604.0 330.6L605.0 329.0L606.0 327.5L606.6 326.6L607.0 326.0L608.0 324.4L609.0 322.7L610.0 321.2L611.0 319.9L612.0 319.0L613.0 318.4L614.0 317.8L615.0 317.2L616.0 316.7L617.0 316.3L618.0 315.9L619.0 315.5L620.0 315.3L621.0 315.1L622.0 315.0L622.5 315.0L623.0 315.0L624.0 315.0L625.0 315.0L626.0 315.0L627.0 315.0L628.0 315.0L629.0 315.0L630.0 315.0L631.0 315.0L632.0 315.0L633.0 315.0L634.0 315.0L635.0 315.0L636.0 315.0L636.3 315.0L637.0 315.1L638.0 315.7L639.0 316.8L640.0 318.2L641.0 319.9L642.0 322.0L643.0 326.3L644.0 333.7L645.0 342.2L646.0 350.0L647.0 357.7L648.0 366.5L649.0 374.8L650.0 381.4L651.0 384.8L651.3 385.0L652.0 383.4L653.0 376.6L654.0 367.0L655.0 357.3L656.0 350.0L657.0 345.1L658.0 340.6L659.0 336.6L660.0 333.0L661.0 329.8L662.0 327.0L663.0 324.4L664.0 321.9L665.0 319.7L666.0 317.7L667.0 316.1L668.0 315.0L669.0 314.2L670.0 313.4L671.0 312.6L672.0 312.0L673.0 311.6L674.0 311.2L675.0 311.1L675.2 311.1L676.0 311.2L677.0 311.5L678.0 312.1L679.0 312.9L680.0 313.8L681.0 314.8L682.0 316.0L683.0 317.8L684.0 320.4L685.0 323.8L686.0 327.5L687.0 331.4L688.0 335.0L689.0 338.2L690.0 341.3L691.0 345.0L692.0 350.0L693.0 356.6L694.0 369.6L694.2 373.7L695.0 443.0L696.0 560.0L697.0 610.4L698.0 644.2L698.5 660.0L699.0 675.5L700.0 703.0L701.0 730.0L702.0 765.4L702.5 773.5L703.0 766.0L704.0 723.5L704.5 700.0L705.0 676.4L706.0 621.2L707.0 568.8L707.2 560.0L708.0 529.5L709.0 496.6L710.0 464.3L710.6 443.0L711.0 425.7L712.0 381.1L712.3 373.7L713.0 364.2L714.0 356.4L715.0 352.5L716.0 350.0L717.0 347.8L718.0 345.0L719.0 340.9L720.0 336.0L721.0 331.4L722.0 328.0L723.0 325.5L724.0 323.2L725.0 321.0L726.0 319.2L727.0 317.8L728.0 316.9L728.8 316.7L729.0 316.7L730.0 317.2L731.0 318.2L732.0 319.6L733.0 321.3L734.0 323.2L735.0 325.0L736.0 327.4L737.0 330.7L738.0 333.9L739.0 336.5L740.0 337.5L741.0 336.6L742.0 334.3L743.0 331.2L744.0 327.9L745.0 325.0L746.0 322.3L747.0 319.3L748.0 316.4L749.0 313.9L750.0 312.0L751.0 310.6L752.0 309.4L753.0 308.3L754.0 307.4L755.0 306.6L755.5 306.3L756.0 306.0L757.0 305.4L758.0 304.9L759.0 304.3L760.0 303.8L761.0 303.3L762.0 302.9L763.0 302.5L764.0 302.1L765.0 301.8L766.0 301.5L767.0 301.3L768.0 301.2L769.0 301.1L769.4 301.1L770.0 301.1L771.0 301.1L772.0 301.1L773.0 301.1L774.0 301.1L775.0 301.2L776.0 301.2L777.0 301.2L778.0 301.2L779.0 301.2L780.0 301.3L781.0 301.3L782.0 301.3L783.0 301.4L784.0 301.4L785.0 301.4L786.0 301.5L787.0 301.5L788.0 301.5L789.0 301.6L790.0 301.6L791.0 301.6L792.0 301.7L793.0 301.7L794.0 301.7L795.0 301.8L796.0 301.8L797.0 301.8L798.0 301.9L799.0 301.9L800.0 301.9L801.0 301.9L802.0 302.0L803.0 302.0L804.0 302.0L805.0 302.0L806.0 302.0L807.0 302.0L807.4 302.0L808.0 302.0L809.0 302.0L810.0 302.0L811.0 302.0L812.0 302.0L813.0 302.0L814.0 302.0L815.0 301.9L816.0 301.9L817.0 301.9L818.0 301.9L819.0 301.9L820.0 301.9L821.0 301.8L822.0 301.8L823.0 301.8L824.0 301.8L825.0 301.8L826.0 301.7L827.0 301.7L828.0 301.7L829.0 301.7L830.0 301.6L831.0 301.6L832.0 301.6L833.0 301.6L834.0 301.5L835.0 301.5L836.0 301.5L837.0 301.5L838.0 301.4L839.0 301.4L840.0 301.4L841.0 301.4L842.0 301.3L843.0 301.3L844.0 301.3L845.0 301.3L846.0 301.2L847.0 301.2L848.0 301.2L849.0 301.2L850.0 301.2L851.0 301.2L852.0 301.1L853.0 301.1L854.0 301.1L855.0 301.1L856.0 301.1L857.0 301.1L858.0 301.1L859.0 301.1L859.2 301.1L860.0 301.1L861.0 301.1L862.0 301.1L863.0 301.1L864.0 301.2L865.0 301.2L866.0 301.2L867.0 301.3L868.0 301.3L869.0 301.4L870.0 301.5L871.0 301.5L872.0 301.6L873.0 301.7L874.0 301.8L875.0 301.9L876.0 302.0L876.5 302.0L877.0 302.1L878.0 302.2L879.0 302.4L880.0 302.6L881.0 302.9L882.0 303.3L883.0 303.7L884.0 304.2L885.0 304.9L886.0 305.6L886.9 306.3L887.0 306.4L888.0 309.6L889.0 315.8L890.0 323.6L891.0 331.8L892.0 339.0L893.0 345.7L894.0 352.7L895.0 359.5L896.0 365.4L897.0 370.0L898.0 373.7L899.0 377.3L900.0 380.4L901.0 382.8L902.0 384.1L902.5 384.3L903.0 384.1L904.0 382.6L905.0 380.0L906.0 376.8L907.0 373.3L908.0 370.0L909.0 366.6L910.0 362.8L911.0 358.9L912.0 355.0L913.0 351.3L914.0 347.6L915.0 343.9L916.0 340.2L916.3 339.1L917.0 336.3L918.0 332.2L919.0 328.2L920.0 325.0L921.0 322.4L922.0 319.9L923.0 317.8L924.0 316.1L924.9 314.9L925.0 314.8L926.0 313.8L927.0 312.9L928.0 312.1L929.0 311.3L930.0 310.6L931.0 310.0L932.0 309.4L933.0 308.9L934.0 308.4L935.0 307.9L936.0 307.5L937.0 307.0L938.0 306.6L938.7 306.3L939.0 306.2L940.0 305.7L941.0 305.3L942.0 304.8L943.0 304.4L944.0 303.9L945.0 303.5L946.0 303.0L947.0 302.6L948.0 302.2L949.0 301.9L950.0 301.5L951.0 301.2L952.0 300.9L953.0 300.7L954.0 300.5L955.0 300.3L956.0 300.2L957.0 300.2L957.3 300.2L958.0 300.2L959.0 300.2L960.0 300.2L961.0 300.2L962.0 300.2L963.0 300.2L964.0 300.3L965.0 300.3L966.0 300.3L967.0 300.3L968.0 300.3L969.0 300.4L970.0 300.4L971.0 300.4L972.0 300.4L973.0 300.5L974.0 300.5L975.0 300.6L976.0 300.6L977.0 300.6L978.0 300.7L979.0 300.7L980.0 300.8L981.0 300.8L982.0 300.9L983.0 300.9L984.0 301.0L985.0 301.0L986.0 301.1L987.0 301.1L988.0 301.2L989.0 301.2L990.0 301.3L991.0 301.3L992.0 301.4L993.0 301.5L994.0 301.5L995.0 301.6L996.0 301.7L997.0 301.7L998.0 301.8L999.0 301.8L1000.0 301.9L1001.0 302.0L1002.0 302.0L1003.0 302.1L1004.0 302.2L1005.0 302.2L1006.0 302.3L1007.0 302.4L1008.0 302.5L1009.0 302.5L1010.0 302.6L1011.0 302.7L1012.0 302.7L1013.0 302.8L1014.0 302.9L1015.0 302.9L1016.0 303.0L1017.0 303.1L1018.0 303.1L1019.0 303.2L1020.0 303.3L1021.0 303.3L1022.0 303.4L1023.0 303.5L1024.0 303.5L1025.0 303.6L1026.0 303.7L1026.4 303.7L1027.0 303.7L1028.0 303.8L1029.0 303.9L1030.0 303.9L1031.0 304.0L1032.0 304.0L1033.0 304.1L1034.0 304.2L1035.0 304.2L1036.0 304.3L1037.0 304.3L1038.0 304.4L1039.0 304.4L1040.0 304.5L1041.0 304.5L1042.0 304.6L1043.0 304.6L1044.0 304.7L1045.0 304.8L1046.0 304.8L1047.0 304.9L1048.0 304.9L1049.0 305.0L1050.0 305.0L1051.0 305.1L1052.0 305.1L1053.0 305.2L1054.0 305.2L1055.0 305.3L1056.0 305.4L1057.0 305.4L1058.0 305.5L1059.0 305.5L1060.0 305.6L1061.0 305.7L1062.0 305.7L1063.0 305.8L1064.0 305.9L1065.0 305.9L1066.0 306.0L1067.0 306.1L1068.0 306.2L1069.0 306.2L1070.0 306.3L1071.0 306.4L1072.0 306.5L1073.0 306.6L1074.0 306.6L1075.0 306.7L1076.0 306.8L1077.0 306.9L1078.0 307.0L1079.0 307.1L1080.0 307.2L1081.0 307.3L1082.0 307.4L1083.0 307.5L1084.0 307.6L1085.0 307.7L1086.0 307.9L1087.0 308.0L1088.0 308.1L1089.0 308.2L1090.0 308.4L1091.0 308.5L1092.0 308.6L1093.0 308.8L1094.0 308.9L1095.0 309.1L1096.0 309.2L1097.0 309.4L1098.0 309.5L1099.0 309.7L1100.0 309.9L1101.0 310.0L1102.0 310.2L1103.0 310.4L1104.0 310.6L1104.2 310.6L1105.0 310.8L1106.0 311.1L1107.0 311.5L1108.0 312.0L1109.0 312.5L1110.0 313.1L1111.0 313.8L1112.0 314.4L1112.8 315.0L1113.0 315.1L1114.0 316.0L1115.0 317.1L1116.0 318.3L1117.0 319.6L1118.0 320.9L1119.0 322.1L1120.0 323.2L1121.0 324.1L1121.5 324.4L1122.0 324.7L1123.0 325.3L1124.0 325.9L1125.0 326.4L1126.0 326.9L1127.0 327.3L1128.0 327.6L1129.0 327.8L1130.0 327.9L1130.1 327.9L1131.0 327.9L1132.0 327.7L1133.0 327.5L1134.0 327.2L1135.0 326.8L1136.0 326.4L1137.0 325.9L1138.0 325.5L1139.0 325.0L1140.0 324.6L1140.5 324.4L1141.0 324.2L1142.0 323.7L1143.0 323.2L1144.0 322.6L1145.0 322.0L1146.0 321.4L1147.0 320.8L1148.0 320.3L1149.0 319.9L1150.0 319.5L1150.9 319.3L1151.0 319.3L1152.0 319.1L1153.0 319.0L1154.0 318.8L1155.0 318.7L1156.0 318.6L1157.0 318.5L1158.0 318.4L1159.0 318.3L1160.0 318.2L1161.0 318.1L1162.0 318.0L1163.0 318.0L1164.0 317.9L1164.7 317.9L1165.0 317.9L1166.0 317.9L1167.0 317.8L1168.0 317.8L1169.0 317.8L1170.0 317.8L1171.0 317.8L1172.0 317.8L1173.0 317.7L1174.0 317.7L1175.0 317.7L1176.0 317.7L1177.0 317.6L1178.0 317.5L1178.5 317.5L1178.9 243.6L1179.0 243.6L1180.0 243.5L1181.0 243.5L1182.0 243.4L1183.0 243.4L1184.0 243.4L1185.0 243.3L1186.0 243.3L1187.0 243.3L1188.0 243.3L1189.0 243.3L1190.0 243.2L1191.0 243.2L1192.0 243.2L1193.0 243.2L1194.0 243.2L1195.0 243.2L1196.0 243.2L1197.0 243.2L1198.0 243.2L1199.0 243.2L1199.2 243.2L1200.0 243.2L1201.0 243.2L1202.0 243.2L1203.0 243.2L1204.0 243.2L1205.0 243.2L1206.0 243.2L1207.0 243.2L1208.0 243.2L1209.0 243.2L1210.0 243.2L1211.0 243.2L1212.0 243.2L1213.0 243.2L1214.0 243.3L1215.0 243.3L1216.0 243.3L1217.0 243.3L1218.0 243.3L1219.0 243.3L1220.0 243.3L1221.0 243.3L1222.0 243.3L1223.0 243.3L1224.0 243.3L1225.0 243.3L1226.0 243.4L1227.0 243.4L1228.0 243.4L1229.0 243.4L1230.0 243.4L1231.0 243.4L1232.0 243.4L1233.0 243.4L1234.0 243.5L1235.0 243.5L1236.0 243.5L1237.0 243.5L1238.0 243.5L1239.0 243.5L1240.0 243.5L1241.0 243.6L1242.0 243.6L1243.0 243.6L1244.0 243.6L1245.0 243.6L1246.0 243.6L1247.0 243.6L1248.0 243.7L1249.0 243.7L1250.0 243.7L1251.0 243.7L1252.0 243.7L1253.0 243.7L1254.0 243.8L1255.0 243.8L1256.0 243.8L1257.0 243.8L1258.0 243.8L1259.0 243.8L1260.0 243.9L1261.0 243.9L1262.0 243.9L1263.0 243.9L1264.0 243.9L1265.0 244.0L1266.0 244.0L1267.0 244.0L1268.0 244.0L1269.0 244.0L1270.0 244.1L1271.0 244.1L1272.0 244.1L1273.0 244.1L1274.0 244.1L1275.0 244.1L1276.0 244.2L1277.0 244.2L1278.0 244.2L1279.0 244.2L1280.0 244.2L1281.0 244.3L1282.0 244.3L1283.0 244.3L1284.0 244.3L1285.0 244.3L1286.0 244.4L1287.0 244.4L1288.0 244.4L1289.0 244.4L1290.0 244.4L1291.0 244.4L1292.0 244.5L1293.0 244.5L1294.0 244.5L1295.0 244.5L1296.0 244.5L1297.0 244.5L1298.0 244.6L1299.0 244.6L1300.0 244.6L1301.0 244.6L1302.0 244.6L1303.0 244.6L1304.0 244.7L1305.0 244.7L1306.0 244.7L1307.0 244.7L1308.0 244.7L1309.0 244.7L1310.0 244.8L1311.0 244.8L1312.0 244.8L1313.0 244.8L1314.0 244.8L1315.0 244.8L1316.0 244.8L1317.0 244.8L1318.0 244.9L1319.0 244.9L1320.0 244.9L1321.0 244.9L1322.0 244.9L1323.0 244.9L1324.0 244.9L1325.0 245.0L1326.0 245.0L1327.0 245.0L1328.0 245.0L1329.0 245.0L1330.0 245.0L1331.0 245.1L1332.0 245.1L1333.0 245.1L1334.0 245.1L1335.0 245.1L1336.0 245.2L1337.0 245.2L1338.0 245.2L1339.0 245.2L1340.0 245.2L1341.0 245.3L1342.0 245.3L1343.0 245.3L1344.0 245.3L1345.0 245.4L1346.0 245.4L1347.0 245.4L1348.0 245.5L1349.0 245.5L1350.0 245.5L1351.0 245.5L1352.0 245.6L1353.0 245.6L1354.0 245.7L1355.0 245.7L1356.0 245.7L1357.0 245.8L1357.8 245.8L1358.0 245.8L1359.0 245.9L1360.0 245.9L1361.0 246.0L1362.0 246.0L1363.0 246.1L1364.0 246.2L1365.0 246.3L1366.0 246.4L1367.0 246.6L1368.0 246.7L1369.0 246.8L1370.0 247.0L1371.0 247.2L1372.0 247.3L1373.0 247.5L1374.0 247.7L1375.0 248.0L1376.0 248.2L1376.8 248.4L1377.0 248.5L1378.0 248.8L1379.0 249.3L1380.0 250.0L1381.0 250.8L1382.0 251.6L1383.0 252.6L1384.0 253.6L1385.0 254.6L1386.0 255.7L1387.0 256.8L1387.2 257.0L1388.0 257.9L1389.0 259.3L1390.0 260.8L1391.0 262.4L1392.0 264.1L1393.0 265.8L1394.0 267.5L1395.0 269.1L1396.0 270.6L1397.0 272.0L1397.5 272.6L1398.0 273.2L1399.0 274.5L1400.0 275.8L1401.0 277.0L1402.0 278.3L1403.0 279.5L1404.0 280.5L1405.0 281.4L1406.0 282.1L1407.0 282.5L1407.9 282.6L1408.0 282.6L1409.0 282.3L1410.0 281.7L1411.0 280.7L1412.0 279.4L1413.0 277.9L1414.0 276.2L1415.0 274.5L1416.0 272.8L1417.0 271.1L1418.0 269.5L1418.3 269.1L1419.0 268.0L1420.0 266.3L1421.0 264.5L1422.0 262.5L1423.0 260.7L1424.0 258.9L1425.0 257.4L1426.0 256.1L1426.9 255.3L1427.0 255.2L1428.0 254.6L1429.0 253.9L1430.0 253.4L1431.0 252.8L1432.0 252.3L1433.0 251.9L1434.0 251.5L1435.0 251.2L1436.0 250.8L1437.0 250.6L1438.0 250.3L1439.0 250.1L1440.0 249.9L1441.0 249.7L1442.0 249.6L1443.0 249.4L1444.0 249.2L1445.0 249.1L1446.0 248.9L1447.0 248.8L1448.0 248.6L1449.0 248.5L1450.0 248.4L1451.0 248.3L1452.0 248.1L1453.0 248.0L1454.0 247.9L1455.0 247.8L1456.0 247.7L1457.0 247.6L1458.0 247.5L1459.0 247.5L1460.0 247.4L1461.0 247.3L1462.0 247.2L1463.0 247.1L1464.0 247.1L1465.0 247.0L1466.0 246.9L1467.0 246.9L1468.0 246.8L1469.0 246.8L1470.0 246.7L1470.1 246.7L1471.0 246.7L1472.0 246.6L1473.0 246.5L1474.0 246.5L1475.0 246.4L1476.0 246.4L1477.0 246.3L1478.0 246.3L1479.0 246.2L1480.0 246.2L1481.0 246.1L1482.0 246.1L1483.0 246.0L1484.0 246.0L1485.0 245.9L1486.0 245.9L1487.0 245.9L1488.0 245.8L1489.0 245.8L1490.0 245.7L1491.0 245.7L1492.0 245.6L1493.0 245.6L1494.0 245.6L1495.0 245.5L1496.0 245.5L1497.0 245.5L1498.0 245.4L1499.0 245.4L1500.0 245.4L1501.0 245.3L1502.0 245.3L1503.0 245.3L1504.0 245.2L1505.0 245.2L1506.0 245.2L1507.0 245.1L1508.0 245.1L1509.0 245.1L1510.0 245.1L1511.0 245.1L1512.0 245.0L1513.0 245.0L1514.0 245.0L1515.0 245.0L1516.0 245.0L1517.0 245.0L1518.0 244.9L1519.0 244.9L1520.0 244.9L1521.0 244.9L1522.0 244.9L1523.0 244.9L1524.0 244.9L1525.0 244.9L1526.0 244.9L1527.0 244.9L1528.0 244.9L1529.0 244.9L1530.0 244.8L1531.0 244.8L1532.0 244.8L1533.0 244.8L1534.0 244.8L1535.0 244.8L1536.0 244.8L1537.0 244.8L1538.0 244.8L1539.0 244.8L1540.0 244.8L1541.0 244.8L1542.0 244.8L1543.0 244.8L1544.0 244.8L1545.0 244.8L1546.0 244.7L1547.0 244.7L1548.0 244.7L1549.0 244.7L1550.0 244.7L1551.0 244.7L1552.0 244.7L1553.0 244.7L1554.0 244.7L1555.0 244.7L1556.0 244.7L1557.0 244.7L1558.0 244.7L1559.0 244.7L1560.0 244.7L1561.0 244.7L1562.0 244.7L1563.0 244.7L1564.0 244.7L1565.0 244.7L1566.0 244.7L1567.0 244.7L1568.0 244.7L1569.0 244.7L1570.0 244.6L1571.0 244.6L1572.0 244.6L1573.0 244.6L1574.0 244.6L1575.0 244.6L1576.0 244.6L1577.0 244.6L1578.0 244.6L1579.0 244.6L1580.0 244.6L1581.0 244.6L1582.0 244.6L1583.0 244.6L1584.0 244.6L1585.0 244.6L1586.0 244.6L1587.0 244.6L1588.0 244.6L1589.0 244.6L1590.0 244.6L1591.0 244.6L1592.0 244.6L1593.0 244.6L1594.0 244.6L1595.0 244.6L1596.0 244.6L1597.0 244.6L1598.0 244.6L1599.0 244.6L1600.0 244.6" fill="none" stroke="#fe0000" stroke-width="15.5" stroke-linejoin="round" stroke-linecap="butt"/></g>
<g clip-path="url(#c2)"><path d="M1620.0 232.5L1621.0 232.4L1622.0 232.4L1623.0 232.3L1624.0 232.3L1625.0 232.2L1626.0 232.2L1626.9 232.1L1627.0 232.1L1628.0 232.0L1629.0 232.0L1630.0 231.9L1631.0 231.8L1632.0 231.8L1633.0 231.7L1634.0 231.6L1635.0 231.5L1636.0 231.5L1637.0 231.4L1638.0 231.3L1639.0 231.2L1640.0 231.2L1641.0 231.1L1642.0 231.0L1643.0 230.9L1644.0 230.8L1645.0 230.7L1646.0 230.7L1647.0 230.6L1648.0 230.5L1649.0 230.4L1650.0 230.4L1651.0 230.3L1652.0 230.2L1653.0 230.1L1654.0 230.1L1655.0 230.0L1656.0 229.9L1657.0 229.8L1658.0 229.8L1659.0 229.7L1660.0 229.7L1661.0 229.6L1662.0 229.6L1663.0 229.5L1664.0 229.5L1665.0 229.4L1666.0 229.4L1667.0 229.3L1668.0 229.3L1669.0 229.3L1670.0 229.2L1671.0 229.2L1671.8 229.2L1672.0 229.2L1673.0 229.2L1674.0 229.2L1675.0 229.1L1676.0 229.1L1677.0 229.1L1678.0 229.1L1679.0 229.1L1680.0 229.1L1681.0 229.1L1682.0 229.0L1683.0 229.0L1684.0 229.0L1685.0 229.0L1686.0 229.0L1687.0 229.0L1688.0 229.0L1689.0 229.0L1690.0 228.9L1691.0 228.9L1692.0 228.9L1693.0 228.9L1694.0 228.9L1695.0 228.9L1696.0 228.9L1697.0 228.9L1698.0 228.8L1699.0 228.8L1700.0 228.8L1701.0 228.8L1702.0 228.8L1703.0 228.8L1704.0 228.8L1705.0 228.8L1706.0 228.8L1707.0 228.8L1708.0 228.7L1709.0 228.7L1710.0 228.7L1711.0 228.7L1712.0 228.7L1713.0 228.7L1714.0 228.7L1715.0 228.7L1716.0 228.7L1717.0 228.7L1718.0 228.7L1719.0 228.7L1720.0 228.7L1721.0 228.7L1722.0 228.6L1723.0 228.6L1724.0 228.6L1725.0 228.6L1726.0 228.6L1727.0 228.6L1728.0 228.6L1729.0 228.6L1730.0 228.6L1731.0 228.6L1732.0 228.6L1733.0 228.6L1734.0 228.6L1735.0 228.6L1736.0 228.6L1737.0 228.6L1738.0 228.6L1739.0 228.6L1740.0 228.6L1741.0 228.6L1742.0 228.6L1743.0 228.6L1744.0 228.6L1745.0 228.6L1746.0 228.7L1747.0 228.7L1748.0 228.7L1749.0 228.8L1750.0 228.8L1751.0 228.8L1752.0 228.9L1753.0 228.9L1754.0 229.0L1755.0 229.1L1756.0 229.1L1757.0 229.2L1758.0 229.3L1759.0 229.3L1760.0 229.4L1761.0 229.5L1762.0 229.6L1763.0 229.7L1764.0 229.8L1765.0 229.9L1766.0 230.0L1767.0 230.1L1768.0 230.2L1769.0 230.3L1770.0 230.5L1771.0 230.6L1772.0 230.7L1773.0 230.8L1774.0 231.0L1775.0 231.1L1775.6 231.2L1776.0 231.3L1777.0 231.5L1778.0 231.7L1779.0 232.0L1780.0 232.3L1781.0 232.7L1782.0 233.1L1783.0 233.6L1784.0 234.0L1785.0 234.5L1786.0 235.1L1787.0 235.6L1788.0 236.2L1789.0 236.8L1790.0 237.3L1791.0 237.9L1792.0 238.5L1792.8 239.0L1793.0 239.1L1794.0 239.7L1795.0 240.4L1796.0 241.1L1797.0 241.9L1798.0 242.6L1799.0 243.5L1800.0 244.3L1801.0 245.2L1802.0 246.0L1803.0 247.0L1804.0 247.9L1805.0 248.8L1806.0 249.8L1807.0 250.7L1808.0 251.7L1809.0 252.6L1810.0 253.6L1810.1 253.7L1811.0 254.6L1812.0 255.6L1813.0 256.7L1814.0 257.9L1815.0 259.1L1816.0 260.3L1817.0 261.5L1818.0 262.8L1819.0 264.0L1820.0 265.2L1821.0 266.4L1822.0 267.5L1823.0 268.6L1824.0 269.7L1825.0 270.7L1826.0 271.6L1827.0 272.4L1827.4 272.7L1828.0 273.1L1829.0 273.9L1830.0 274.7L1831.0 275.5L1832.0 276.2L1833.0 277.0L1834.0 277.7L1835.0 278.3L1836.0 278.9L1837.0 279.4L1838.0 279.9L1839.0 280.2L1840.0 280.4L1841.0 280.5L1841.2 280.5L1842.0 280.5L1843.0 280.4L1844.0 280.2L1845.0 280.0L1846.0 279.8L1847.0 279.5L1848.0 279.1L1849.0 278.7L1850.0 278.3L1851.0 277.9L1852.0 277.4L1853.0 277.0L1854.0 276.5L1855.0 276.0L1856.0 275.5L1857.0 275.1L1858.0 274.6L1858.5 274.4L1859.0 274.2L1860.0 273.7L1861.0 273.1L1862.0 272.4L1863.0 271.7L1864.0 271.0L1865.0 270.3L1866.0 269.5L1867.0 268.8L1868.0 268.0L1869.0 267.3L1870.0 266.6L1871.0 266.0L1872.0 265.4L1873.0 265.0L1874.0 264.6L1875.0 264.3L1876.0 264.1L1877.0 264.0L1878.0 264.1L1879.0 264.3L1880.0 264.7L1881.0 265.1L1882.0 265.7L1883.0 266.4L1884.0 267.3L1885.0 268.2L1886.0 269.2L1887.0 270.2L1888.0 271.4L1889.0 272.6L1890.0 273.8L1891.0 275.1L1892.0 276.4L1893.0 277.8L1893.1 277.9L1894.0 279.2L1895.0 280.9L1896.0 282.9L1897.0 285.1L1898.0 287.6L1899.0 290.4L1900.0 293.4L1901.0 296.6L1902.0 300.1L1903.0 303.9L1903.4 305.5L1904.0 308.2L1905.0 314.0L1906.0 320.8L1907.0 328.3L1908.0 335.8L1908.6 340.1L1909.0 343.2L1910.0 352.4L1911.0 362.2L1912.0 370.6L1913.0 375.4L1913.4 375.9L1914.0 374.9L1915.0 370.0L1916.0 362.6L1917.0 355.0L1918.0 349.1L1918.1 348.7L1919.0 345.6L1920.0 342.7L1921.0 340.3L1922.0 337.9L1923.0 335.3L1924.0 332.2L1924.2 331.5L1925.0 328.3L1926.0 323.5L1927.0 318.3L1928.0 312.9L1929.0 307.5L1929.4 305.5L1930.0 302.4L1931.0 296.9L1932.0 291.4L1933.0 286.2L1934.0 281.7L1934.6 279.6L1935.0 278.4L1936.0 275.4L1937.0 272.7L1938.0 270.3L1939.0 268.0L1940.0 265.9L1941.0 263.9L1942.0 262.1L1943.0 260.3L1944.0 258.7L1944.9 257.2L1945.0 257.0L1946.0 255.5L1947.0 254.0L1948.0 252.5L1949.0 251.1L1950.0 249.8L1951.0 248.5L1952.0 247.2L1953.0 246.0L1954.0 244.9L1955.0 243.8L1956.0 242.7L1957.0 241.6L1958.0 240.6L1958.7 239.9L1959.0 239.6L1960.0 238.6L1961.0 237.6L1962.0 236.7L1963.0 235.7L1964.0 234.8L1965.0 233.9L1966.0 233.0L1967.0 232.2L1968.0 231.3L1969.0 230.5L1970.0 229.8L1971.0 229.0L1972.0 228.3L1973.0 227.6L1974.0 227.0L1975.0 226.4L1975.7 226.0L1976.0 225.8L1977.0 225.3L1978.0 224.8L1979.0 224.2L1980.0 223.7L1981.0 223.3L1982.0 222.8L1983.0 222.4L1984.0 222.1L1985.0 221.7L1986.0 221.5L1986.7 221.3L1987.0 221.2L1988.0 221.0L1989.0 220.8L1990.0 220.6L1991.0 220.5L1992.0 220.3L1993.0 220.1L1994.0 220.0L1995.0 219.8L1996.0 219.7L1997.0 219.5L1998.0 219.4L1999.0 219.3L2000.0 219.1L2001.0 219.0L2002.0 218.9L2003.0 218.8L2004.0 218.7L2005.0 218.6L2006.0 218.5L2007.0 218.4L2008.0 218.3L2009.0 218.2L2010.0 218.1L2011.0 218.0L2012.0 217.9L2013.0 217.8L2014.0 217.7L2015.0 217.6L2016.0 217.5L2017.0 217.4L2018.0 217.3L2018.4 217.3L2019.0 217.2L2020.0 217.1L2021.0 217.1L2022.0 217.0L2023.0 216.9L2024.0 216.8L2025.0 216.7L2026.0 216.6L2027.0 216.5L2028.0 216.4L2029.0 216.3L2030.0 216.2L2031.0 216.1L2032.0 216.0L2033.0 215.9L2034.0 215.9L2035.0 215.8L2036.0 215.7L2037.0 215.6L2038.0 215.5L2039.0 215.4L2040.0 215.3L2041.0 215.3L2042.0 215.2L2043.0 215.1L2044.0 215.0L2045.0 214.9L2046.0 214.9L2047.0 214.8L2048.0 214.7L2049.0 214.6L2050.0 214.5L2051.0 214.5L2052.0 214.4L2053.0 214.3L2054.0 214.2L2055.0 214.2L2056.0 214.1L2057.0 214.0L2058.0 214.0L2059.0 213.9L2060.0 213.8L2061.0 213.8L2062.0 213.7L2063.0 213.6L2064.0 213.6L2065.0 213.5L2066.0 213.4L2067.0 213.4L2068.0 213.3L2069.0 213.3L2070.0 213.2L2071.0 213.1L2072.0 213.1L2073.0 213.0L2074.0 213.0L2075.0 212.9L2076.0 212.9L2077.0 212.8L2078.0 212.8L2079.0 212.7L2080.0 212.7L2081.0 212.6L2081.8 212.6L2082.0 212.6L2083.0 212.5L2084.0 212.5L2085.0 212.5L2086.0 212.4L2087.0 212.4L2088.0 212.3L2089.0 212.3L2090.0 212.2L2091.0 212.2L2092.0 212.2L2093.0 212.1L2094.0 212.1L2095.0 212.0L2096.0 212.0L2097.0 211.9L2098.0 211.9L2099.0 211.9L2100.0 211.8L2101.0 211.8L2102.0 211.7L2103.0 211.7L2104.0 211.6L2105.0 211.6L2106.0 211.6L2107.0 211.5L2108.0 211.5L2109.0 211.4L2110.0 211.4L2111.0 211.4L2112.0 211.3L2113.0 211.3L2114.0 211.2L2115.0 211.2L2116.0 211.2L2117.0 211.1L2118.0 211.1L2119.0 211.1L2120.0 211.0L2121.0 211.0L2122.0 211.0L2123.0 210.9L2124.0 210.9L2125.0 210.8L2126.0 210.8L2127.0 210.8L2128.0 210.7L2129.0 210.7L2130.0 210.7L2131.0 210.6L2132.0 210.6L2133.0 210.6L2134.0 210.6L2135.0 210.5L2136.0 210.5L2137.0 210.5L2138.0 210.4L2139.0 210.4L2140.0 210.4L2141.0 210.4L2142.0 210.3L2143.0 210.3L2144.0 210.3L2145.0 210.2L2146.0 210.2L2147.0 210.2L2148.0 210.2L2149.0 210.2L2150.0 210.1L2151.0 210.1L2152.0 210.1L2153.0 210.1L2154.0 210.0L2155.0 210.0L2156.0 210.0L2157.0 210.0L2158.0 210.0L2159.0 210.0L2160.0 209.9L2161.0 209.9L2162.0 209.9L2163.0 209.9L2164.0 209.9L2165.0 209.9L2166.0 209.9L2167.0 209.9L2168.0 209.8L2169.0 209.8L2170.0 209.8L2171.0 209.8L2172.0 209.8L2173.0 209.8L2174.0 209.8L2175.0 209.8" fill="none" stroke="#fe0000" stroke-width="15.5" stroke-linejoin="round" stroke-linecap="butt"/></g>
<g clip-path="url(#c1)"><path d="M325.0 1391.0L326.0 1391.0L327.0 1391.0L328.0 1391.0L329.0 1391.0L330.0 1391.0L331.0 1391.0L332.0 1391.0L333.0 1391.0L334.0 1391.0L335.0 1391.0L336.0 1391.0L337.0 1391.0L338.0 1391.0L339.0 1391.0L340.0 1391.0L341.0 1390.9L342.0 1390.9L343.0 1390.9L344.0 1390.9L345.0 1390.9L346.0 1390.9L347.0 1390.9L348.0 1390.8L349.0 1390.8L350.0 1390.8L351.0 1390.8L352.0 1390.7L353.0 1390.6L354.0 1390.5L355.0 1390.4L356.0 1390.2L357.0 1390.1L358.0 1389.9L359.0 1389.7L360.0 1389.5L361.0 1389.2L362.0 1388.9L363.0 1388.4L364.0 1387.9L365.0 1387.3L366.0 1386.7L367.0 1386.0L368.0 1385.3L369.0 1384.5L370.0 1383.7L371.0 1382.6L372.0 1381.4L372.3 1381.0L373.0 1379.9L374.0 1377.8L375.0 1375.3L376.0 1372.3L377.0 1369.0L377.7 1366.6L378.0 1365.5L379.0 1361.0L380.0 1355.7L380.6 1352.3L381.0 1349.9L382.0 1343.4L383.0 1336.3L384.0 1329.5L384.5 1326.4L385.0 1323.5L386.0 1317.7L387.0 1312.3L388.0 1307.3L388.5 1305.0L389.0 1302.8L390.0 1298.8L391.0 1295.2L392.0 1291.8L393.0 1288.4L394.0 1285.1L395.0 1281.6L396.0 1277.9L396.8 1274.6L397.0 1273.7L398.0 1269.1L399.0 1264.2L400.0 1258.9L401.0 1253.6L402.0 1248.4L403.0 1243.3L403.7 1240.0L404.0 1238.6L405.0 1234.0L406.0 1229.5L407.0 1225.1L408.0 1220.7L409.0 1216.4L410.0 1212.2L411.0 1208.0L412.0 1203.8L413.0 1199.6L414.0 1195.5L415.0 1191.5L416.0 1187.4L417.0 1183.4L418.0 1179.4L419.0 1175.4L420.0 1171.4L421.0 1167.4L422.0 1163.4L423.0 1159.5L424.0 1155.6L425.0 1151.7L426.0 1147.8L427.0 1144.0L428.0 1140.2L429.0 1136.5L430.0 1132.8L431.0 1129.0L432.0 1125.0L433.0 1121.0L434.0 1117.0L435.0 1113.2L436.0 1109.7L437.0 1106.6L438.0 1104.1L438.3 1103.4L439.0 1102.0L440.0 1100.2L441.0 1098.5L442.0 1097.0L443.0 1095.7L444.0 1094.4L445.0 1093.2L446.0 1092.0L447.0 1090.8L448.0 1089.5L449.0 1088.2L450.0 1086.9L451.0 1085.9L452.0 1085.1L453.0 1084.5L453.8 1084.4L454.0 1084.5L455.0 1087.7L456.0 1094.2L457.0 1102.1L458.0 1110.0L459.0 1119.7L460.0 1131.2L461.0 1139.8L461.6 1141.5L462.0 1140.5L463.0 1130.6L464.0 1115.2L465.0 1100.0L466.0 1084.5L467.0 1067.4L468.0 1053.9L468.5 1050.0L469.0 1047.4L470.0 1042.9L471.0 1039.8L472.0 1038.6L473.0 1041.7L474.0 1050.1L474.8 1060.0L475.0 1063.4L476.0 1101.2L476.3 1120.0L476.9 1210.0L477.0 1217.0L478.0 1268.2L479.0 1298.0L479.2 1303.0L480.0 1322.7L481.0 1340.9L481.5 1343.7L482.0 1339.0L483.0 1313.6L483.4 1303.0L484.0 1288.7L485.0 1263.6L486.0 1235.6L486.8 1210.0L487.0 1202.4L487.9 1164.0L488.0 1160.7L489.0 1132.7L489.5 1120.0L490.0 1106.6L491.0 1080.1L491.8 1063.7L492.0 1060.5L493.0 1045.3L494.0 1031.3L495.0 1018.5L496.0 1006.7L497.0 996.0L498.0 986.5L499.0 977.9L500.0 970.4L501.0 963.9L501.7 960.0L502.0 958.4L503.0 953.5L504.0 949.1L505.0 945.0L506.0 941.4L507.0 938.1L508.0 935.1L509.0 932.4L510.0 930.0L511.0 927.7L512.0 925.3L513.0 923.0L514.0 920.8L515.0 918.8L516.0 917.0L517.0 915.6L518.0 914.6L519.0 914.1L519.5 914.0L520.0 914.3L521.0 916.1L522.0 919.0L523.0 922.0L524.0 926.0L525.0 931.0L526.0 935.0L526.7 936.0L527.0 935.7L528.0 932.0L528.4 930.0L529.0 925.1L530.0 913.1L530.7 906.0L531.0 903.8L532.0 897.4L532.5 895.0L533.0 893.1L534.0 889.9L534.9 887.5L535.0 887.2L536.0 884.7L537.0 882.3L538.0 880.0L539.0 877.9L540.0 875.8L541.0 873.8L542.0 871.8L542.4 871.0L543.0 869.8L544.0 867.9L545.0 866.0L546.0 864.2L547.0 862.4L548.0 860.6L549.0 858.8L550.0 857.0L551.0 855.2L551.1 855.0L552.0 853.3L553.0 851.5L554.0 849.6L555.0 847.7L556.0 845.8L557.0 843.9L558.0 842.1L559.0 840.3L559.7 839.0L560.0 838.5L561.0 836.7L562.0 834.9L563.0 833.2L564.0 831.4L565.0 829.7L566.0 828.0L567.0 826.3L567.2 826.0L568.0 824.7L569.0 822.9L570.0 821.2L571.0 819.5L572.0 817.9L573.0 816.4L574.0 815.1L574.1 815.0L575.0 814.0L576.0 813.2L577.0 812.3L578.0 811.4L578.7 810.5L579.0 810.0L580.0 807.9L581.0 805.5L582.0 803.3L582.2 803.0L583.0 801.8L584.0 800.2L585.0 798.7L586.0 797.3L587.0 796.0L588.0 795.1L589.0 794.4L590.0 794.0L590.3 794.0L591.0 794.2L592.0 795.1L593.0 796.3L593.5 797.0L594.0 797.9L595.0 800.4L596.0 803.1L597.0 804.6L597.2 804.7L598.0 802.1L599.0 795.0L600.0 783.7L601.0 772.6L601.2 771.5L602.0 768.7L603.0 766.2L604.0 764.3L605.0 762.7L606.0 761.1L606.6 760.0L607.0 759.2L608.0 757.2L609.0 755.1L610.0 753.1L611.0 751.2L612.0 749.3L613.0 747.4L613.8 746.0L614.0 745.6L615.0 743.9L616.0 742.1L617.0 740.3L618.0 738.6L619.0 736.8L620.0 735.1L621.0 733.4L622.0 731.8L623.0 730.2L624.0 728.6L625.0 727.1L626.0 725.7L627.0 724.4L628.0 723.1L629.0 721.9L629.4 721.5L630.0 720.8L631.0 719.7L632.0 718.5L633.0 717.4L634.0 716.4L635.0 715.5L636.0 714.9L637.0 714.5L637.5 714.5L638.0 714.6L639.0 715.5L640.0 717.1L641.0 719.4L642.0 722.0L643.0 727.6L644.0 737.5L645.0 749.3L646.0 760.8L647.0 770.0L648.0 777.6L649.0 785.4L650.0 792.0L651.0 796.5L651.8 797.8L652.0 797.7L653.0 794.4L654.0 787.7L655.0 779.0L656.0 770.0L657.0 758.6L658.0 744.2L659.0 730.1L660.0 720.0L661.0 713.4L662.0 707.6L663.0 702.3L664.0 697.7L665.0 693.5L666.0 689.8L667.0 686.3L668.0 683.1L669.0 680.0L670.0 677.0L671.0 674.2L672.0 671.6L673.0 669.5L674.0 668.0L675.0 666.8L676.0 665.7L677.0 664.8L678.0 664.0L679.0 663.7L679.5 663.6L680.0 663.7L681.0 664.4L682.0 665.6L683.0 667.4L684.0 669.5L685.0 672.0L686.0 675.9L687.0 682.1L688.0 690.5L689.0 701.0L690.0 713.2L690.5 720.0L691.0 728.6L692.0 754.0L693.0 785.6L693.5 802.0L694.0 818.1L695.0 860.0L696.0 950.0L696.8 1024.0L697.0 1038.2L698.0 1099.3L698.5 1120.0L699.0 1136.2L700.0 1165.8L701.0 1188.5L702.0 1200.1L702.3 1200.8L703.0 1195.7L704.0 1174.8L705.0 1144.9L705.8 1120.0L706.0 1114.1L707.0 1081.9L708.0 1036.0L708.2 1024.0L709.0 933.4L709.3 900.0L709.8 860.0L710.0 842.2L710.5 802.0L711.0 779.3L712.0 746.0L712.7 732.8L713.0 729.2L714.0 720.0L715.0 713.7L716.0 708.3L717.0 702.2L717.5 698.3L718.0 693.6L719.0 682.5L720.0 670.5L721.0 659.2L722.0 650.0L723.0 642.4L724.0 635.9L725.0 632.0L726.0 630.1L727.0 628.4L728.0 627.3L729.0 626.6L729.6 626.5L730.0 626.6L731.0 627.5L732.0 629.2L733.0 631.5L734.0 634.0L735.0 638.2L736.0 643.9L737.0 648.0L738.0 650.4L739.0 652.4L740.0 653.8L740.9 654.3L741.0 654.2L742.0 647.2L743.0 635.2L743.5 630.0L744.0 625.5L745.0 616.0L746.0 607.8L746.9 603.2L747.0 602.9L748.0 600.3L749.0 598.2L750.0 596.5L751.0 595.1L752.0 593.8L753.0 592.7L754.0 591.5L755.0 590.2L755.6 589.4L756.0 588.8L757.0 587.3L758.0 585.8L759.0 584.2L760.0 582.7L761.0 581.2L762.0 579.7L763.0 578.3L764.0 576.9L765.0 575.5L766.0 574.2L767.0 573.0L768.0 571.8L769.0 570.8L769.4 570.4L770.0 569.8L771.0 568.9L772.0 568.1L773.0 567.2L774.0 566.5L775.0 565.7L776.0 565.0L777.0 564.3L778.0 563.6L779.0 562.9L780.0 562.2L781.0 561.6L782.0 561.0L783.0 560.3L784.0 559.7L785.0 559.1L786.0 558.4L786.7 558.0L787.0 557.8L788.0 557.2L789.0 556.5L790.0 555.9L791.0 555.3L792.0 554.7L793.0 554.1L794.0 553.5L795.0 552.9L796.0 552.3L797.0 551.7L798.0 551.1L799.0 550.6L800.0 550.0L801.0 549.4L802.0 548.8L803.0 548.3L804.0 547.7L805.0 547.2L806.0 546.6L807.0 546.1L808.0 545.5L809.0 545.0L810.0 544.4L811.0 543.9L812.0 543.3L813.0 542.8L814.0 542.2L815.0 541.7L816.0 541.1L817.0 540.6L818.0 540.0L819.0 539.4L820.0 538.9L821.0 538.3L822.0 537.7L823.0 537.2L824.0 536.6L824.7 536.2L825.0 536.0L826.0 535.4L827.0 534.8L828.0 534.2L829.0 533.6L830.0 533.0L831.0 532.3L832.0 531.7L833.0 531.1L834.0 530.4L835.0 529.8L836.0 529.1L837.0 528.5L838.0 527.8L839.0 527.2L840.0 526.5L841.0 525.9L842.0 525.2L843.0 524.6L844.0 524.0L845.0 523.3L846.0 522.7L847.0 522.1L848.0 521.5L849.0 521.0L850.0 520.4L851.0 519.8L852.0 519.3L853.0 518.8L854.0 518.3L855.0 517.8L856.0 517.3L857.0 516.9L858.0 516.5L859.0 516.1L859.2 516.0L860.0 515.7L861.0 515.3L862.0 514.9L863.0 514.5L864.0 514.0L865.0 513.6L866.0 513.3L867.0 512.9L868.0 512.6L869.0 512.3L870.0 512.0L871.0 511.8L872.0 511.6L873.0 511.5L874.0 511.5L875.0 511.5L876.0 511.6L877.0 511.7L878.0 511.9L879.0 512.1L880.0 512.4L881.0 512.7L882.0 513.1L883.0 513.5L884.0 514.0L885.0 515.1L886.0 517.4L887.0 520.7L888.0 524.9L889.0 529.7L890.0 535.0L891.0 540.7L892.0 546.5L893.0 553.8L894.0 563.2L895.0 573.8L896.0 584.8L897.0 595.3L897.5 600.0L898.0 604.8L899.0 615.6L900.0 626.8L901.0 637.0L902.0 644.8L903.0 648.8L903.3 649.0L904.0 647.4L905.0 640.5L906.0 630.3L907.0 618.7L908.0 607.9L909.0 600.0L910.0 594.7L911.0 590.0L912.0 585.9L913.0 582.1L914.0 578.6L915.0 575.1L916.0 571.6L917.0 568.0L918.0 564.0L918.9 560.0L919.0 559.5L920.0 554.5L921.0 549.1L921.5 546.5L922.0 543.9L923.0 538.2L924.0 532.4L925.0 526.6L926.0 521.3L927.0 516.6L928.0 513.1L928.4 512.0L929.0 510.6L930.0 508.4L931.0 506.4L932.0 504.5L933.0 502.7L934.0 501.0L935.0 499.5L936.0 498.1L937.0 496.7L938.0 495.5L939.0 494.3L940.0 493.2L941.0 492.2L942.0 491.2L943.0 490.2L944.0 489.3L945.0 488.4L945.7 487.8L946.0 487.5L947.0 486.7L948.0 485.8L949.0 485.0L950.0 484.3L951.0 483.5L952.0 482.8L953.0 482.2L954.0 481.6L955.0 481.1L956.0 480.6L957.0 480.1L957.3 480.0L958.0 479.7L959.0 479.3L960.0 479.0L961.0 478.6L962.0 478.2L963.0 477.9L964.0 477.5L965.0 477.2L966.0 476.9L967.0 476.6L968.0 476.3L969.0 476.0L970.0 475.7L971.0 475.4L972.0 475.1L973.0 474.8L974.0 474.6L975.0 474.3L976.0 474.1L977.0 473.9L978.0 473.6L979.0 473.4L980.0 473.2L981.0 473.0L982.0 472.8L983.0 472.6L984.0 472.4L985.0 472.3L986.0 472.1L987.0 471.9L988.0 471.8L989.0 471.7L990.0 471.5L991.0 471.4L991.8 471.3L992.0 471.3L993.0 471.2L994.0 471.0L995.0 470.9L996.0 470.8L997.0 470.7L998.0 470.6L999.0 470.5L1000.0 470.4L1001.0 470.3L1002.0 470.2L1003.0 470.1L1004.0 470.0L1005.0 469.9L1006.0 469.8L1007.0 469.7L1008.0 469.6L1009.0 469.5L1010.0 469.4L1011.0 469.3L1012.0 469.3L1013.0 469.2L1014.0 469.1L1015.0 469.1L1016.0 469.0L1017.0 469.0L1018.0 468.9L1019.0 468.9L1020.0 468.8L1021.0 468.8L1022.0 468.8L1023.0 468.7L1024.0 468.7L1025.0 468.7L1026.0 468.7L1026.4 468.7L1027.0 468.7L1028.0 468.7L1029.0 468.7L1030.0 468.7L1031.0 468.7L1032.0 468.7L1033.0 468.8L1034.0 468.8L1035.0 468.8L1036.0 468.8L1037.0 468.9L1038.0 468.9L1039.0 468.9L1040.0 469.0L1041.0 469.0L1042.0 469.0L1043.0 469.1L1044.0 469.1L1045.0 469.2L1046.0 469.2L1047.0 469.3L1048.0 469.3L1049.0 469.4L1050.0 469.4L1051.0 469.5L1052.0 469.5L1053.0 469.6L1054.0 469.6L1055.0 469.7L1056.0 469.8L1057.0 469.8L1058.0 469.9L1059.0 469.9L1060.0 470.0L1061.0 470.1L1062.0 470.1L1063.0 470.2L1064.0 470.3L1065.0 470.3L1066.0 470.4L1067.0 470.5L1068.0 470.6L1069.0 470.6L1070.0 470.7L1071.0 470.8L1072.0 470.8L1073.0 470.9L1074.0 471.0L1075.0 471.1L1076.0 471.1L1077.0 471.2L1078.0 471.3L1078.3 471.3L1079.0 471.3L1080.0 471.4L1081.0 471.5L1082.0 471.6L1083.0 471.6L1084.0 471.7L1085.0 471.8L1086.0 471.8L1087.0 471.9L1088.0 472.0L1089.0 472.0L1090.0 472.1L1091.0 472.2L1092.0 472.3L1093.0 472.4L1094.0 472.5L1095.0 472.6L1096.0 472.7L1097.0 472.8L1098.0 472.9L1099.0 473.0L1100.0 473.1L1101.0 473.3L1102.0 473.4L1103.0 473.6L1104.0 473.7L1105.0 473.9L1106.0 474.1L1107.0 474.3L1108.0 474.5L1109.0 474.7L1109.4 474.8L1110.0 475.0L1111.0 475.4L1112.0 475.9L1113.0 476.6L1114.0 477.4L1115.0 478.3L1116.0 479.3L1117.0 480.3L1118.0 481.4L1119.0 482.6L1119.7 483.4L1120.0 483.8L1121.0 485.5L1122.0 487.6L1123.0 490.1L1124.0 492.7L1125.0 495.2L1126.0 497.6L1127.0 499.5L1128.0 500.9L1129.0 501.5L1129.2 501.5L1130.0 501.4L1131.0 500.9L1132.0 500.1L1133.0 499.0L1134.0 497.9L1135.0 496.6L1136.0 495.3L1137.0 494.1L1138.0 493.0L1139.0 492.0L1140.0 490.9L1141.0 489.7L1142.0 488.6L1143.0 487.5L1144.0 486.4L1145.0 485.4L1146.0 484.5L1147.0 483.7L1147.4 483.4L1148.0 483.0L1149.0 482.4L1150.0 481.8L1151.0 481.3L1152.0 480.8L1153.0 480.3L1154.0 479.9L1155.0 479.4L1156.0 479.0L1157.0 478.6L1157.8 478.3L1158.0 478.2L1159.0 477.8L1160.0 477.5L1161.0 477.2L1162.0 476.8L1163.0 476.5L1164.0 476.2L1165.0 475.9L1166.0 475.6L1167.0 475.3L1168.0 475.0L1169.0 474.7L1170.0 474.4L1171.0 474.1L1171.6 473.9L1172.0 473.8L1173.0 473.6L1174.0 473.4L1175.0 473.3L1176.0 473.0L1177.0 472.6L1178.0 472.0L1178.7 471.3L1178.9 392.7L1179.0 392.7L1180.0 392.4L1181.0 392.2L1182.0 392.1L1183.0 391.9L1184.0 391.8L1185.0 391.7L1186.0 391.6L1187.0 391.5L1188.0 391.4L1189.0 391.4L1190.0 391.3L1191.0 391.3L1192.0 391.2L1193.0 391.2L1194.0 391.2L1195.0 391.2L1196.0 391.1L1197.0 391.1L1198.0 391.1L1199.0 391.0L1199.2 391.0L1200.0 391.0L1201.0 390.9L1202.0 390.9L1203.0 390.8L1204.0 390.7L1205.0 390.7L1206.0 390.7L1207.0 390.6L1208.0 390.6L1209.0 390.5L1210.0 390.5L1211.0 390.4L1212.0 390.4L1213.0 390.3L1214.0 390.3L1215.0 390.2L1216.0 390.2L1217.0 390.2L1218.0 390.1L1219.0 390.1L1220.0 390.0L1221.0 390.0L1222.0 390.0L1223.0 389.9L1224.0 389.9L1225.0 389.8L1226.0 389.8L1227.0 389.8L1228.0 389.7L1229.0 389.7L1230.0 389.7L1231.0 389.6L1232.0 389.6L1233.0 389.6L1234.0 389.5L1235.0 389.5L1236.0 389.5L1237.0 389.4L1238.0 389.4L1239.0 389.4L1240.0 389.3L1241.0 389.3L1242.0 389.3L1243.0 389.2L1244.0 389.2L1245.0 389.2L1246.0 389.1L1247.0 389.1L1248.0 389.1L1249.0 389.0L1250.0 389.0L1251.0 389.0L1252.0 389.0L1253.0 388.9L1254.0 388.9L1255.0 388.9L1256.0 388.8L1257.0 388.8L1258.0 388.8L1259.0 388.8L1260.0 388.7L1261.0 388.7L1262.0 388.7L1263.0 388.6L1264.0 388.6L1265.0 388.6L1266.0 388.6L1267.0 388.5L1268.0 388.5L1269.0 388.5L1270.0 388.4L1271.0 388.4L1272.0 388.4L1273.0 388.4L1274.0 388.3L1275.0 388.3L1276.0 388.3L1277.0 388.2L1278.0 388.2L1279.0 388.2L1280.0 388.2L1281.0 388.1L1282.0 388.1L1283.0 388.1L1284.0 388.0L1285.0 388.0L1286.0 388.0L1287.0 387.9L1288.0 387.9L1289.0 387.9L1290.0 387.8L1291.0 387.8L1292.0 387.8L1293.0 387.7L1294.0 387.7L1295.0 387.7L1296.0 387.6L1297.0 387.6L1298.0 387.6L1299.0 387.5L1300.0 387.5L1301.0 387.5L1302.0 387.4L1303.0 387.4L1304.0 387.3L1305.0 387.3L1306.0 387.2L1307.0 387.2L1308.0 387.1L1309.0 387.1L1310.0 387.0L1311.0 387.0L1312.0 386.9L1313.0 386.9L1314.0 386.8L1315.0 386.8L1316.0 386.8L1317.0 386.7L1318.0 386.7L1319.0 386.6L1320.0 386.6L1321.0 386.5L1322.0 386.5L1323.0 386.5L1324.0 386.4L1325.0 386.4L1326.0 386.4L1327.0 386.4L1328.0 386.3L1329.0 386.3L1330.0 386.3L1331.0 386.3L1331.8 386.3L1332.0 386.3L1333.0 386.3L1334.0 386.3L1335.0 386.3L1336.0 386.3L1337.0 386.3L1338.0 386.3L1339.0 386.3L1340.0 386.3L1341.0 386.3L1342.0 386.3L1343.0 386.3L1344.0 386.3L1345.0 386.3L1346.0 386.3L1347.0 386.3L1348.0 386.3L1349.0 386.3L1350.0 386.3L1351.0 386.3L1352.0 386.3L1353.0 386.3L1354.0 386.3L1355.0 386.3L1356.0 386.3L1357.0 386.3L1358.0 386.3L1359.0 386.3L1360.0 386.3L1361.0 386.3L1362.0 386.3L1363.0 386.3L1364.0 386.3L1365.0 386.4L1366.0 386.5L1367.0 386.7L1368.0 386.9L1369.0 387.1L1370.0 387.4L1371.0 387.7L1372.0 388.0L1373.0 388.4L1374.0 388.8L1375.0 389.2L1376.0 389.7L1376.8 390.1L1377.0 390.2L1378.0 391.0L1379.0 392.0L1380.0 393.4L1381.0 395.0L1382.0 396.8L1383.0 398.7L1384.0 400.8L1385.0 403.0L1385.4 403.9L1386.0 405.4L1387.0 408.5L1388.0 412.1L1389.0 416.1L1390.0 420.0L1391.0 423.8L1392.0 427.2L1392.3 428.1L1393.0 430.1L1394.0 432.9L1395.0 435.5L1396.0 438.1L1397.0 440.6L1398.0 442.9L1399.0 445.1L1400.0 447.1L1401.0 448.9L1402.0 450.7L1403.0 452.5L1404.0 454.3L1405.0 456.0L1406.0 457.6L1407.0 458.8L1408.0 459.7L1409.0 460.1L1409.3 460.1L1410.0 459.8L1411.0 458.5L1412.0 456.3L1413.0 453.5L1414.0 450.3L1415.0 446.9L1416.0 443.6L1416.5 442.0L1417.0 440.4L1418.0 436.7L1419.0 432.5L1420.0 428.1L1421.0 423.8L1422.0 419.6L1423.0 415.9L1423.5 414.3L1424.0 412.8L1425.0 409.7L1426.0 406.8L1427.0 404.0L1428.0 401.5L1429.0 399.3L1430.0 397.6L1430.4 397.0L1431.0 396.2L1432.0 395.0L1433.0 393.9L1434.0 392.9L1435.0 392.0L1436.0 391.1L1437.0 390.4L1438.0 389.7L1439.0 389.1L1440.0 388.7L1440.7 388.4L1441.0 388.3L1442.0 388.0L1443.0 387.7L1444.0 387.5L1445.0 387.3L1446.0 387.1L1447.0 386.9L1448.0 386.8L1449.0 386.6L1450.0 386.4L1451.0 386.2L1452.0 386.0L1452.8 385.8L1453.0 385.7L1454.0 385.5L1455.0 385.1L1456.0 384.8L1457.0 384.4L1458.0 384.0L1459.0 383.6L1460.0 383.2L1461.0 382.8L1462.0 382.4L1463.0 382.0L1464.0 381.6L1465.0 381.2L1466.0 380.8L1467.0 380.5L1468.0 380.2L1469.0 379.9L1470.0 379.7L1470.1 379.7L1471.0 379.5L1472.0 379.3L1473.0 379.2L1474.0 379.0L1475.0 378.8L1476.0 378.7L1477.0 378.5L1478.0 378.3L1479.0 378.2L1480.0 378.0L1481.0 377.9L1482.0 377.8L1483.0 377.6L1484.0 377.5L1485.0 377.4L1486.0 377.2L1487.0 377.1L1488.0 377.0L1489.0 376.9L1490.0 376.8L1491.0 376.7L1492.0 376.6L1493.0 376.5L1494.0 376.4L1495.0 376.3L1496.0 376.2L1497.0 376.1L1498.0 376.0L1499.0 375.9L1500.0 375.8L1501.0 375.7L1502.0 375.6L1503.0 375.5L1504.0 375.5L1504.7 375.4L1505.0 375.4L1506.0 375.3L1507.0 375.2L1508.0 375.1L1509.0 375.0L1510.0 374.9L1511.0 374.9L1512.0 374.8L1513.0 374.7L1514.0 374.6L1515.0 374.5L1516.0 374.4L1517.0 374.4L1518.0 374.3L1519.0 374.2L1520.0 374.1L1521.0 374.0L1522.0 373.9L1523.0 373.9L1524.0 373.8L1525.0 373.7L1526.0 373.6L1527.0 373.5L1528.0 373.5L1529.0 373.4L1530.0 373.3L1531.0 373.2L1532.0 373.1L1533.0 373.1L1534.0 373.0L1535.0 372.9L1536.0 372.8L1537.0 372.8L1538.0 372.7L1539.0 372.6L1540.0 372.5L1541.0 372.5L1542.0 372.4L1543.0 372.3L1544.0 372.3L1545.0 372.2L1546.0 372.1L1547.0 372.0L1548.0 372.0L1549.0 371.9L1550.0 371.8L1551.0 371.8L1552.0 371.7L1553.0 371.6L1554.0 371.6L1555.0 371.5L1556.0 371.4L1557.0 371.4L1558.0 371.3L1559.0 371.3L1560.0 371.2L1561.0 371.1L1562.0 371.1L1563.0 371.0L1564.0 371.0L1565.0 370.9L1566.0 370.9L1567.0 370.8L1568.0 370.8L1569.0 370.7L1570.0 370.7L1571.0 370.6L1572.0 370.6L1573.0 370.5L1574.0 370.5L1575.0 370.4L1576.0 370.4L1577.0 370.3L1578.0 370.3L1579.0 370.3L1580.0 370.2L1581.0 370.2L1582.0 370.1L1583.0 370.1L1584.0 370.1L1585.0 370.0L1586.0 370.0L1587.0 370.0L1588.0 370.0L1589.0 369.9L1590.0 369.9L1591.0 369.9L1592.0 369.8L1593.0 369.8L1594.0 369.8L1595.0 369.8L1596.0 369.8L1597.0 369.7L1598.0 369.7L1599.0 369.7L1600.0 369.7" fill="none" stroke="#0000fe" stroke-width="15.5" stroke-linejoin="round" stroke-linecap="butt"/></g>
<g clip-path="url(#c2)"><path d="M1620.0 334.0L1621.0 333.9L1622.0 333.8L1623.0 333.7L1624.0 333.5L1625.0 333.4L1626.0 333.3L1626.9 333.2L1627.0 333.2L1628.0 333.1L1629.0 333.0L1630.0 332.8L1631.0 332.7L1632.0 332.6L1633.0 332.5L1634.0 332.3L1635.0 332.2L1636.0 332.1L1637.0 331.9L1638.0 331.8L1639.0 331.7L1640.0 331.5L1641.0 331.4L1642.0 331.3L1643.0 331.2L1644.0 331.0L1645.0 330.9L1646.0 330.8L1647.0 330.6L1648.0 330.5L1649.0 330.4L1650.0 330.2L1651.0 330.1L1652.0 330.0L1653.0 329.9L1654.0 329.7L1655.0 329.6L1656.0 329.5L1657.0 329.4L1658.0 329.3L1659.0 329.2L1660.0 329.0L1661.0 328.9L1662.0 328.8L1663.0 328.7L1664.0 328.6L1665.0 328.5L1666.0 328.5L1667.0 328.4L1668.0 328.3L1669.0 328.2L1670.0 328.1L1671.0 328.1L1671.8 328.0L1672.0 328.0L1673.0 327.9L1674.0 327.9L1675.0 327.8L1676.0 327.7L1677.0 327.7L1678.0 327.6L1679.0 327.5L1680.0 327.5L1681.0 327.4L1682.0 327.3L1683.0 327.3L1684.0 327.2L1685.0 327.1L1686.0 327.1L1687.0 327.0L1688.0 326.9L1689.0 326.9L1690.0 326.8L1691.0 326.8L1692.0 326.7L1693.0 326.6L1694.0 326.6L1695.0 326.5L1696.0 326.5L1697.0 326.4L1698.0 326.3L1699.0 326.3L1700.0 326.2L1701.0 326.2L1702.0 326.1L1703.0 326.1L1704.0 326.0L1705.0 325.9L1706.0 325.9L1707.0 325.8L1708.0 325.8L1709.0 325.7L1710.0 325.7L1711.0 325.6L1712.0 325.6L1713.0 325.5L1714.0 325.5L1715.0 325.5L1716.0 325.4L1717.0 325.4L1718.0 325.3L1719.0 325.3L1720.0 325.2L1721.0 325.2L1722.0 325.2L1723.0 325.1L1724.0 325.1L1725.0 325.1L1726.0 325.0L1727.0 325.0L1728.0 325.0L1729.0 324.9L1730.0 324.9L1731.0 324.9L1732.0 324.8L1733.0 324.8L1734.0 324.8L1735.0 324.8L1736.0 324.7L1737.0 324.7L1738.0 324.7L1739.0 324.7L1740.0 324.7L1741.0 324.7L1742.0 324.6L1743.0 324.6L1744.0 324.6L1745.0 324.6L1746.0 324.6L1747.0 324.6L1748.0 324.6L1749.0 324.6L1749.6 324.6L1750.0 324.6L1751.0 324.6L1752.0 324.7L1753.0 324.8L1754.0 324.9L1755.0 325.0L1756.0 325.1L1757.0 325.3L1758.0 325.5L1759.0 325.7L1760.0 325.9L1761.0 326.2L1762.0 326.5L1763.0 326.7L1764.0 327.0L1765.0 327.4L1766.0 327.7L1767.0 328.1L1768.0 328.4L1769.0 328.8L1770.0 329.2L1771.0 329.6L1772.0 330.0L1773.0 330.4L1774.0 330.8L1775.0 331.2L1775.6 331.5L1776.0 331.7L1777.0 332.2L1778.0 332.8L1779.0 333.5L1780.0 334.3L1781.0 335.2L1782.0 336.1L1783.0 337.1L1784.0 338.1L1785.0 339.2L1786.0 340.3L1787.0 341.5L1788.0 342.7L1789.0 344.0L1790.0 345.2L1791.0 346.5L1792.0 347.8L1792.8 348.8L1793.0 349.1L1794.0 350.4L1795.0 351.9L1796.0 353.5L1797.0 355.1L1798.0 356.9L1799.0 358.6L1800.0 360.5L1801.0 362.4L1802.0 364.3L1803.0 366.3L1804.0 368.2L1805.0 370.2L1806.0 372.2L1807.0 374.1L1808.0 376.0L1809.0 377.9L1810.0 379.7L1810.1 379.9L1811.0 381.5L1812.0 383.4L1813.0 385.3L1814.0 387.2L1815.0 389.1L1816.0 391.1L1817.0 393.0L1818.0 394.9L1819.0 396.8L1820.0 398.7L1821.0 400.6L1822.0 402.4L1823.0 404.1L1824.0 405.8L1825.0 407.4L1826.0 409.0L1827.0 410.4L1827.4 411.0L1828.0 411.8L1829.0 413.3L1830.0 414.8L1831.0 416.3L1832.0 417.8L1833.0 419.3L1834.0 420.7L1835.0 422.1L1836.0 423.4L1837.0 424.5L1838.0 425.5L1839.0 426.3L1840.0 426.9L1841.0 427.3L1842.0 427.4L1843.0 427.4L1844.0 427.3L1845.0 427.1L1846.0 426.9L1847.0 426.7L1848.0 426.3L1849.0 426.0L1850.0 425.5L1851.0 425.1L1852.0 424.5L1853.0 424.0L1854.0 423.3L1855.0 422.6L1856.0 421.9L1856.8 421.3L1857.0 421.1L1858.0 419.3L1859.0 416.6L1860.0 413.5L1861.0 410.9L1862.0 409.2L1863.0 408.3L1864.0 407.4L1865.0 406.6L1866.0 405.8L1867.0 405.1L1868.0 404.5L1869.0 403.9L1870.0 403.3L1871.0 402.9L1872.0 402.5L1873.0 402.1L1874.0 401.9L1875.0 401.7L1876.0 401.5L1877.0 401.5L1878.0 401.7L1879.0 402.4L1880.0 403.5L1881.0 404.9L1882.0 406.7L1883.0 408.7L1884.0 411.0L1885.0 413.5L1886.0 416.1L1887.0 418.9L1888.0 421.7L1889.0 424.5L1890.0 427.4L1890.5 428.8L1891.0 430.3L1892.0 433.5L1893.0 437.1L1894.0 441.0L1895.0 445.2L1896.0 449.7L1897.0 454.4L1898.0 459.3L1899.0 464.3L1899.1 464.8L1900.0 469.5L1901.0 474.9L1902.0 480.8L1903.0 487.2L1904.0 494.1L1904.9 500.8L1905.0 501.6L1906.0 510.1L1907.0 519.8L1908.0 530.8L1908.5 536.8L1909.0 544.1L1910.0 563.6L1911.0 585.6L1912.0 605.1L1913.0 617.3L1913.5 619.0L1914.0 616.7L1915.0 602.6L1916.0 585.0L1917.0 565.6L1917.5 558.0L1918.0 553.2L1919.0 547.0L1920.0 544.6L1921.0 543.1L1922.0 542.2L1923.0 541.3L1924.0 539.9L1925.0 537.6L1925.2 537.0L1926.0 530.9L1927.0 518.5L1927.3 515.2L1928.0 507.9L1929.0 497.4L1930.0 487.1L1931.0 477.4L1931.6 472.0L1932.0 468.6L1933.0 460.3L1934.0 452.3L1935.0 444.8L1936.0 437.7L1937.0 431.2L1937.4 428.8L1938.0 425.3L1939.0 419.6L1940.0 414.3L1941.0 409.2L1942.0 404.4L1943.0 399.9L1944.0 395.6L1944.9 392.0L1945.0 391.6L1946.0 387.8L1947.0 384.1L1948.0 380.5L1949.0 377.0L1950.0 373.6L1951.0 370.4L1952.0 367.2L1953.0 364.2L1954.0 361.3L1955.0 358.4L1956.0 355.7L1957.0 353.1L1958.0 350.5L1958.7 348.8L1959.0 348.1L1960.0 345.7L1961.0 343.5L1962.0 341.4L1963.0 339.4L1964.0 337.4L1965.0 335.5L1966.0 333.6L1967.0 331.8L1968.0 329.9L1969.0 328.0L1970.0 326.1L1970.9 324.3L1971.0 324.1L1972.0 321.9L1973.0 319.6L1974.0 317.3L1975.0 315.1L1976.0 313.2L1977.0 311.8L1977.2 311.6L1978.0 310.8L1979.0 309.9L1980.0 309.1L1981.0 308.4L1982.0 307.7L1983.0 307.1L1984.0 306.6L1985.0 306.1L1986.0 305.6L1986.7 305.3L1987.0 305.2L1988.0 304.8L1989.0 304.4L1990.0 304.0L1991.0 303.7L1992.0 303.3L1993.0 303.0L1994.0 302.7L1995.0 302.4L1996.0 302.2L1997.0 301.9L1998.0 301.6L1999.0 301.4L2000.0 301.1L2001.0 300.9L2002.0 300.6L2002.6 300.5L2003.0 300.4L2004.0 300.2L2005.0 299.9L2006.0 299.7L2007.0 299.4L2008.0 299.2L2009.0 299.0L2010.0 298.7L2011.0 298.5L2012.0 298.3L2013.0 298.0L2014.0 297.8L2015.0 297.6L2016.0 297.4L2017.0 297.1L2018.0 296.9L2019.0 296.7L2020.0 296.5L2021.0 296.3L2022.0 296.1L2023.0 295.9L2024.0 295.7L2025.0 295.5L2026.0 295.3L2027.0 295.1L2028.0 294.9L2029.0 294.7L2030.0 294.5L2031.0 294.3L2032.0 294.1L2033.0 293.9L2034.0 293.7L2035.0 293.5L2036.0 293.4L2037.0 293.2L2038.0 293.0L2039.0 292.8L2040.0 292.7L2041.0 292.5L2042.0 292.3L2043.0 292.1L2044.0 292.0L2045.0 291.8L2046.0 291.7L2047.0 291.5L2048.0 291.3L2049.0 291.2L2050.0 291.0L2050.1 291.0L2051.0 290.9L2052.0 290.7L2053.0 290.6L2054.0 290.4L2055.0 290.2L2056.0 290.1L2057.0 289.9L2058.0 289.8L2059.0 289.6L2060.0 289.5L2061.0 289.3L2062.0 289.2L2063.0 289.1L2064.0 288.9L2065.0 288.8L2066.0 288.6L2067.0 288.5L2068.0 288.3L2069.0 288.2L2070.0 288.0L2071.0 287.9L2072.0 287.8L2073.0 287.6L2074.0 287.5L2075.0 287.4L2076.0 287.2L2077.0 287.1L2078.0 287.0L2079.0 286.8L2080.0 286.7L2081.0 286.6L2082.0 286.4L2083.0 286.3L2084.0 286.2L2085.0 286.1L2086.0 285.9L2087.0 285.8L2088.0 285.7L2089.0 285.6L2090.0 285.5L2091.0 285.3L2092.0 285.2L2093.0 285.1L2094.0 285.0L2095.0 284.9L2096.0 284.8L2097.0 284.7L2098.0 284.6L2099.0 284.5L2100.0 284.3L2101.0 284.2L2102.0 284.1L2103.0 284.0L2104.0 283.9L2105.0 283.9L2106.0 283.8L2107.0 283.7L2108.0 283.6L2109.0 283.5L2110.0 283.4L2111.0 283.3L2112.0 283.2L2113.0 283.1L2113.5 283.1L2114.0 283.1L2115.0 283.0L2116.0 282.9L2117.0 282.8L2118.0 282.7L2119.0 282.7L2120.0 282.6L2121.0 282.5L2122.0 282.4L2123.0 282.3L2124.0 282.3L2125.0 282.2L2126.0 282.1L2127.0 282.0L2128.0 282.0L2129.0 281.9L2130.0 281.8L2131.0 281.7L2132.0 281.7L2133.0 281.6L2134.0 281.5L2135.0 281.5L2136.0 281.4L2137.0 281.3L2138.0 281.3L2139.0 281.2L2140.0 281.1L2141.0 281.1L2142.0 281.0L2143.0 280.9L2144.0 280.9L2145.0 280.8L2146.0 280.7L2147.0 280.7L2148.0 280.6L2149.0 280.6L2150.0 280.5L2151.0 280.4L2152.0 280.4L2153.0 280.3L2154.0 280.3L2155.0 280.2L2156.0 280.2L2157.0 280.1L2158.0 280.1L2159.0 280.0L2160.0 280.0L2161.0 279.9L2162.0 279.9L2163.0 279.8L2164.0 279.8L2165.0 279.8L2166.0 279.7L2167.0 279.7L2168.0 279.6L2169.0 279.6L2170.0 279.6L2171.0 279.5L2172.0 279.5L2173.0 279.5L2174.0 279.4L2175.0 279.4" fill="none" stroke="#0000fe" stroke-width="15.5" stroke-linejoin="round" stroke-linecap="butt"/></g>
<polygon fill="#000" points="531.6,1233.9 531.6,998.8 541.4,998.8 527.4,943.8 513.4,998.8 523.1,998.8 523.1,1233.9"/>
<polygon fill="#000" points="602.1,955.7 602.1,862.0 611.9,862.0 597.9,807.0 583.9,862.0 593.6,862.0 593.6,955.7"/>
<polygon fill="#000" points="657.9,906.4 657.9,852.2 667.6,852.2 653.6,797.2 639.6,852.2 649.4,852.2 649.4,906.4"/>
<polygon fill="#000" points="769.1,769.9 755.7,712.0 765.2,709.8 739.1,659.4 737.9,716.1 747.4,713.9 760.9,771.9"/>
<polygon fill="#000" points="908.0,785.5 908.0,709.2 917.7,709.2 903.7,654.2 889.7,709.2 899.5,709.2 899.5,785.5"/>
<polygon fill="#000" points="1132.2,631.8 1132.2,562.9 1142.0,562.9 1128.0,507.9 1114.0,562.9 1123.8,562.9 1123.8,631.8"/>
<polygon fill="#000" points="1413.8,596.7 1413.8,519.2 1423.5,519.2 1409.5,464.2 1395.5,519.2 1405.2,519.2 1405.2,596.7"/>
<polygon fill="#000" points="1918.2,756.7 1918.2,678.3 1928.0,678.3 1914.0,623.3 1900.0,678.3 1909.8,678.3 1909.8,756.7"/>
<text transform="translate(283.5 1419.3) scale(1.02 1)" text-anchor="end" style="font-family:'Liberation Sans',Arial,sans-serif;font-kerning:none;stroke:#000;stroke-width:1.0px;font-size:98.5px">0</text>
<text transform="translate(283.5 1153.9) scale(1.02 1)" text-anchor="end" style="font-family:'Liberation Sans',Arial,sans-serif;font-kerning:none;stroke:#000;stroke-width:1.0px;font-size:98.5px">20</text>
<text transform="translate(283.5 888.6) scale(1.02 1)" text-anchor="end" style="font-family:'Liberation Sans',Arial,sans-serif;font-kerning:none;stroke:#000;stroke-width:1.0px;font-size:98.5px">40</text>
<text transform="translate(283.5 623.2) scale(1.02 1)" text-anchor="end" style="font-family:'Liberation Sans',Arial,sans-serif;font-kerning:none;stroke:#000;stroke-width:1.0px;font-size:98.5px">60</text>
<text transform="translate(283.5 357.9) scale(1.02 1)" text-anchor="end" style="font-family:'Liberation Sans',Arial,sans-serif;font-kerning:none;stroke:#000;stroke-width:1.0px;font-size:98.5px">80</text>
<text transform="translate(115.87 92.5) scale(1.02 1)" dx="3.4 -3.4" style="font-family:'Liberation Sans',Arial,sans-serif;font-kerning:none;stroke:#000;stroke-width:1.0px;font-size:98.5px">100</text>
<text transform="translate(515.9 1646.5) scale(1.02 1)" text-anchor="middle" style="font-family:'Liberation Sans',Arial,sans-serif;font-kerning:none;stroke:#000;stroke-width:1.0px;font-size:98.5px">400</text>
<text transform="translate(824.1 1646.5) scale(1.02 1)" text-anchor="middle" style="font-family:'Liberation Sans',Arial,sans-serif;font-kerning:none;stroke:#000;stroke-width:1.0px;font-size:98.5px">600</text>
<text transform="translate(1132.4 1646.5) scale(1.02 1)" text-anchor="middle" style="font-family:'Liberation Sans',Arial,sans-serif;font-kerning:none;stroke:#000;stroke-width:1.0px;font-size:98.5px">800</text>
<text transform="translate(1328.87 1646.5) scale(1.02 1)" dx="3.4 -3.4" style="font-family:'Liberation Sans',Arial,sans-serif;font-kerning:none;stroke:#000;stroke-width:1.0px;font-size:98.5px">1000</text>
<text transform="translate(1592.55 1646.5) scale(1.02 1)" dx="3.4 -3.4" style="font-family:'Liberation Sans',Arial,sans-serif;font-kerning:none;stroke:#000;stroke-width:1.0px;font-size:98.5px">1400</text>
<text transform="translate(1901.25 1646.5) scale(1.02 1)" dx="3.4 -3.4" style="font-family:'Liberation Sans',Arial,sans-serif;font-kerning:none;stroke:#000;stroke-width:1.0px;font-size:98.5px">1600</text>
<rect x="123.4" y="83.9" width="20.5" height="10.9" fill="#fff"/>
<rect x="154.2" y="83.9" width="20.1" height="10.9" fill="#fff"/>
<rect x="1336.4" y="1637.9" width="20.5" height="10.9" fill="#fff"/>
<rect x="1367.2" y="1637.9" width="20.1" height="10.9" fill="#fff"/>
<rect x="1600.0" y="1637.9" width="20.5" height="10.9" fill="#fff"/>
<rect x="1630.9" y="1637.9" width="20.1" height="10.9" fill="#fff"/>
<rect x="1908.7" y="1637.9" width="20.5" height="10.9" fill="#fff"/>
<rect x="1939.6" y="1637.9" width="20.1" height="10.9" fill="#fff"/>
<text transform="translate(1286 1783) scale(1.02 1)" text-anchor="middle" style="font-family:'Liberation Sans',Arial,sans-serif;font-kerning:none;stroke:#000;stroke-width:1.0px;font-size:96.0px">Wavelength (nm)</text>
<text transform="translate(94 755.5) scale(1.02 1) rotate(-90)" text-anchor="middle" style="font-family:'Liberation Sans',Arial,sans-serif;font-kerning:none;stroke:#000;stroke-width:1.0px;font-size:96.0px">Transmittance (%)</text>
<text transform="translate(447.1 1500.8) rotate(-90) scale(0.87 1)" style="font-family:'Liberation Serif','Times New Roman',serif;font-weight:bold;stroke:#000;stroke-width:0.6px;font-size:44.5px">4</text><text transform="translate(473.6 1479.9) rotate(-90) scale(0.87 1)" style="font-family:'Liberation Serif','Times New Roman',serif;font-weight:bold;stroke:#000;stroke-width:0.6px;font-size:64.0px">G</text><text transform="translate(490.6 1431.8) rotate(-90) scale(0.945 1)" style="font-family:'Liberation Serif','Times New Roman',serif;font-weight:bold;stroke:#000;stroke-width:0.6px;font-size:44.5px">11/2</text>
<text transform="translate(535.1 1334.4) rotate(-90) scale(0.87 1)" style="font-family:'Liberation Serif','Times New Roman',serif;font-weight:bold;stroke:#000;stroke-width:0.6px;font-size:44.5px">2</text><text transform="translate(561.6 1313.3) rotate(-90) scale(1.0 1)" style="font-family:'Liberation Serif','Times New Roman',serif;font-weight:bold;stroke:#000;stroke-width:0.6px;font-size:64.0px">H</text><text transform="translate(578.6 1265.3) rotate(-90) scale(0.945 1)" style="font-family:'Liberation Serif','Times New Roman',serif;font-weight:bold;stroke:#000;stroke-width:0.6px;font-size:44.5px">9/2</text>
<text transform="translate(563.5 1147.4) rotate(-90) scale(0.87 1)" style="font-family:'Liberation Serif','Times New Roman',serif;font-weight:bold;stroke:#000;stroke-width:0.6px;font-size:44.5px">2</text><text transform="translate(590.0 1124.4) rotate(-90) scale(1.0 1)" style="font-family:'Liberation Serif','Times New Roman',serif;font-weight:bold;stroke:#000;stroke-width:0.6px;font-size:64.0px">F</text><text transform="translate(607.0 1087.7) rotate(-90) scale(0.945 1)" style="font-family:'Liberation Serif','Times New Roman',serif;font-weight:bold;stroke:#000;stroke-width:0.6px;font-size:44.5px">3/2, 5/2</text>
<text transform="translate(642.8 1026.8) rotate(-90) scale(0.87 1)" style="font-family:'Liberation Serif','Times New Roman',serif;font-weight:bold;stroke:#000;stroke-width:0.6px;font-size:44.5px">4</text><text transform="translate(669.3 1004.9) rotate(-90) scale(1.0 1)" style="font-family:'Liberation Serif','Times New Roman',serif;font-weight:bold;stroke:#000;stroke-width:0.6px;font-size:64.0px">F</text><text transform="translate(686.3 967.0) rotate(-90) scale(0.945 1)" style="font-family:'Liberation Serif','Times New Roman',serif;font-weight:bold;stroke:#000;stroke-width:0.6px;font-size:44.5px">7/2</text>
<text transform="translate(704.4 1352.6) rotate(-90) scale(0.87 1)" style="font-family:'Liberation Serif','Times New Roman',serif;font-weight:bold;stroke:#000;stroke-width:0.6px;font-size:44.5px">2</text><text transform="translate(730.9 1331.1) rotate(-90) scale(1.0 1)" style="font-family:'Liberation Serif','Times New Roman',serif;font-weight:bold;stroke:#000;stroke-width:0.6px;font-size:64.0px">H</text><text transform="translate(747.9 1283.0) rotate(-90) scale(0.945 1)" style="font-family:'Liberation Serif','Times New Roman',serif;font-weight:bold;stroke:#000;stroke-width:0.6px;font-size:44.5px">11/2</text>
<text transform="translate(762.0 886.5) rotate(-90) scale(0.87 1)" style="font-family:'Liberation Serif','Times New Roman',serif;font-weight:bold;stroke:#000;stroke-width:0.6px;font-size:44.5px">4</text><text transform="translate(788.5 866.4) rotate(-90) scale(1.0 1)" style="font-family:'Liberation Serif','Times New Roman',serif;font-weight:bold;stroke:#000;stroke-width:0.6px;font-size:64.0px">S</text><text transform="translate(805.5 832.7) rotate(-90) scale(0.945 1)" style="font-family:'Liberation Serif','Times New Roman',serif;font-weight:bold;stroke:#000;stroke-width:0.6px;font-size:44.5px">3/2</text>
<text transform="translate(884.7 909.4) rotate(-90) scale(0.87 1)" style="font-family:'Liberation Serif','Times New Roman',serif;font-weight:bold;stroke:#000;stroke-width:0.6px;font-size:44.5px">4</text><text transform="translate(911.2 888.1) rotate(-90) scale(1.0 1)" style="font-family:'Liberation Serif','Times New Roman',serif;font-weight:bold;stroke:#000;stroke-width:0.6px;font-size:64.0px">F</text><text transform="translate(928.2 851.5) rotate(-90) scale(0.945 1)" style="font-family:'Liberation Serif','Times New Roman',serif;font-weight:bold;stroke:#000;stroke-width:0.6px;font-size:44.5px">9/2</text>
<text transform="translate(1103.2 740.5) rotate(-90) scale(0.87 1)" style="font-family:'Liberation Serif','Times New Roman',serif;font-weight:bold;stroke:#000;stroke-width:0.6px;font-size:44.5px">4</text><text transform="translate(1129.7 719.3) rotate(-90) scale(1.07 1)" style="font-family:'Liberation Serif','Times New Roman',serif;font-weight:bold;stroke:#000;stroke-width:0.6px;font-size:64.0px">I</text><text transform="translate(1146.7 696.2) rotate(-90) scale(0.945 1)" style="font-family:'Liberation Serif','Times New Roman',serif;font-weight:bold;stroke:#000;stroke-width:0.6px;font-size:44.5px">9/2</text>
<text transform="translate(1384.4 717.6) rotate(-90) scale(0.87 1)" style="font-family:'Liberation Serif','Times New Roman',serif;font-weight:bold;stroke:#000;stroke-width:0.6px;font-size:44.5px">4</text><text transform="translate(1410.9 697.2) rotate(-90) scale(1.07 1)" style="font-family:'Liberation Serif','Times New Roman',serif;font-weight:bold;stroke:#000;stroke-width:0.6px;font-size:64.0px">I</text><text transform="translate(1427.9 673.4) rotate(-90) scale(0.945 1)" style="font-family:'Liberation Serif','Times New Roman',serif;font-weight:bold;stroke:#000;stroke-width:0.6px;font-size:44.5px">11/2</text>
<text transform="translate(1890.3 882.3) rotate(-90) scale(0.87 1)" style="font-family:'Liberation Serif','Times New Roman',serif;font-weight:bold;stroke:#000;stroke-width:0.6px;font-size:44.5px">4</text><text transform="translate(1916.8 862.2) rotate(-90) scale(1.07 1)" style="font-family:'Liberation Serif','Times New Roman',serif;font-weight:bold;stroke:#000;stroke-width:0.6px;font-size:64.0px">I</text><text transform="translate(1933.8 838.3) rotate(-90) scale(0.945 1)" style="font-family:'Liberation Serif','Times New Roman',serif;font-weight:bold;stroke:#000;stroke-width:0.6px;font-size:44.5px">13/2</text>
<text transform="translate(1613.5 1129) scale(1.02 1)" style="font-family:'Liberation Serif','Times New Roman',serif;font-size:66.5px;">Er</text>
<text transform="translate(1678.5 1100.6) scale(1.02 1)" style="font-family:'Liberation Serif','Times New Roman',serif;font-size:45px;">3+</text>
<text transform="translate(1752.8 1129.5) scale(0.9 1.12)" text-anchor="middle" style="font-family:'Liberation Serif','Times New Roman',serif;font-size:62px">:</text>
<text transform="translate(1780 1100.8) scale(1.02 1)" style="font-family:'Liberation Serif','Times New Roman',serif;font-size:45px;">4</text>
<text transform="translate(1803 1129) scale(1.02 1)" style="font-family:'Liberation Serif','Times New Roman',serif;font-size:66.5px;">I</text>
<text transform="translate(1825.3 1147) scale(1.02 1)" style="font-family:'Liberation Serif','Times New Roman',serif;font-size:45.2px;">15/2</text>
<text transform="translate(1907.3 1140.3) scale(0.674 0.729)" style="font-family:'Noto Serif CJK SC','DejaVu Sans Light',serif;font-size:100px">→</text>
<rect x="1049.4" y="1026.2" width="352.1" height="284.4" fill="#fff" stroke="#000" stroke-width="2.7"/>
<path d="M1055 1086.4 H1153" stroke="#000" stroke-width="15.2" fill="none"/>
<path d="M1055 1180.5 H1153" stroke="#fe0000" stroke-width="15.2" fill="none"/>
<path d="M1055 1274.0 H1153" stroke="#0000fe" stroke-width="15.2" fill="none"/>
<text transform="translate(1165.2 1100.8) scale(0.987 1)" style="font-family:'Liberation Sans',Arial,sans-serif;font-kerning:none;stroke:#000;stroke-width:1.0px;font-size:78px">Host</text>
<text transform="translate(1175.2 1193.8) scale(0.987 1)" style="font-family:'Liberation Sans',Arial,sans-serif;font-kerning:none;stroke:#000;stroke-width:1.0px;font-size:78px">Er-G</text>
<text transform="translate(1175.2 1287.2) scale(0.987 1)" style="font-family:'Liberation Sans',Arial,sans-serif;font-kerning:none;stroke:#000;stroke-width:1.0px;font-size:78px">Er-GC</text>
<g id="photo" clip-path="url(#pc)">
<rect x="1454.2" y="1187.0" width="682.7" height="309.0" fill="url(#pbg)"/>
<ellipse cx="1555" cy="1240" rx="100" ry="55" fill="#cdc9bd" opacity="0.8" filter="url(#b14)"/>
<ellipse cx="1476" cy="1380" rx="34" ry="130" fill="#b6b7b5" opacity="0.8" filter="url(#b14)"/>
<ellipse cx="2110" cy="1330" rx="40" ry="150" fill="#d4d8da" opacity="0.9" filter="url(#b14)"/>
<ellipse cx="1800" cy="1478" rx="330" ry="26" fill="#cbced2" opacity="0.9" filter="url(#b14)"/>
<g filter="url(#b2)">
<path d="M1585 1180 H1998 V1248 H1626 L1585 1212 Z" fill="#15778b"/>
<path d="M1585 1180 H1624 V1250 L1585 1212 Z" fill="#0b4a8f"/>
<rect x="1624" y="1180" width="374" height="31" fill="#2c8ca4"/>
<rect x="1624" y="1209" width="374" height="4" fill="#55b3c4" opacity="0.6"/>
<rect x="1622.5" y="1180" width="3" height="70" fill="#8fd3e6" opacity="0.85"/>
<path d="M1957 1180 H1998 V1248 H1975 L1957 1226 Z" fill="#06566c"/>
<ellipse cx="1785" cy="1187" rx="60" ry="10" fill="#d3e1e2"/>
</g>
<g filter="url(#b4)">
<rect x="1499" y="1262" width="158" height="114" rx="14" fill="#d1d2d4"/>
<rect x="1503" y="1266" width="24" height="106" rx="10" fill="#dfe0e1"/>
<rect x="1532" y="1292" width="110" height="66" rx="10" fill="#cbcbce"/>
<rect x="1656" y="1283" width="16" height="95" fill="#d6d7d2"/>
<rect x="1505" y="1362" width="150" height="14" rx="6" fill="#c6c3b8"/>
</g>
<g filter="url(#b4)">
<path d="M1708 1300 Q1708 1224 1775 1222 H1870 V1440 H1745 Q1705 1440 1706 1400 Z" fill="#d6cfd0"/>
<path d="M1716 1256 Q1728 1224 1775 1222 H1841 V1249 H1722 Z" fill="#3f8fab" opacity="0.9"/>
<path d="M1900 1222 H2045 L2088 1262 L2095 1380 L2062 1428 H1900 L1868 1400 V1250 Z" fill="#c0b0b3"/>
<path d="M1898 1226 H1998 V1249 H1876 Z" fill="#6d93ad" opacity="0.85"/>
<path d="M2062 1262 L2088 1262 L2095 1380 L2062 1428 L2040 1428 L2070 1380 Z" fill="#a89b9f" opacity="0.8"/>
<path d="M1900 1400 H2050 L2062 1428 H1900 L1868 1400 Z" fill="#b3a5a8" opacity="0.7"/>
<rect x="1838" y="1226" width="3.5" height="214" fill="#8c8084" opacity="0.8"/>
<path d="M1708 1300 Q1708 1240 1734 1229" stroke="#e6e4e4" stroke-width="6" fill="none"/>
</g>
<g filter="url(#bt)" fill="#2a2426">
<text x="1559.5 1625 1677.5 1735.5 1813 1839 1904.5 1959" y="1357.6" style="font-family:'Liberation Sans',Arial,sans-serif;font-size:95px;stroke:#2a2426;stroke-width:2.2px">FunGlass</text>
</g>
<g filter="url(#bt2)" fill="#373335">
<text transform="translate(1567.5 1413.5) scale(1.085 1)" style="font-family:'Liberation Sans',Arial,sans-serif;font-size:37.5px;letter-spacing:0.4px;stroke:#373335;stroke-width:0.5px">centre for functional and</text>
<text transform="translate(1566.5 1452.3) scale(1 1)" style="font-family:'Liberation Sans',Arial,sans-serif;font-size:36px;stroke:#373335;stroke-width:0.5px">surface functionalized glass</text>
</g>
<rect x="1650" y="1286" width="24" height="76" fill="#d3d4d0" opacity="0.9" filter="url(#b2)"/>
<text x="2122.5" y="1227" style="font-family:'Liberation Sans',Arial,sans-serif;font-weight:bold;font-size:45px" fill="#17171a" filter="url(#bt2)">D</text>
</g>
</svg>
</body></html>
